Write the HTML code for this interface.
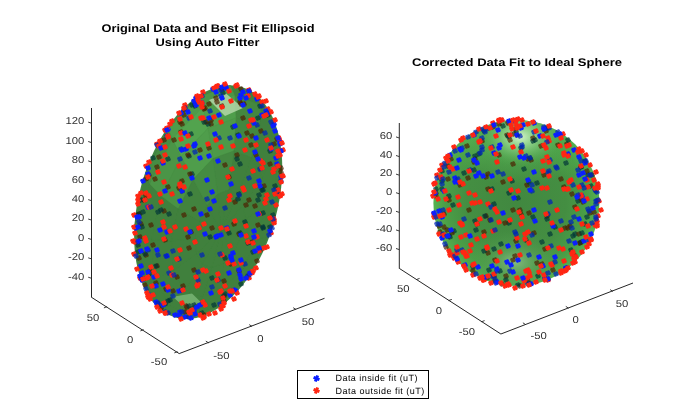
<!DOCTYPE html>
<html><head><meta charset="utf-8"><style>
html,body{margin:0;padding:0;background:#fff;width:700px;height:420px;overflow:hidden}
svg{display:block} text{text-rendering:geometricPrecision} .gs{will-change:transform;opacity:0.999}
</style></head><body>
<svg width="700" height="420" viewBox="0 0 700 420">
<rect width="700" height="420" fill="#fff"/>
<defs><path id="m" transform="scale(0.97)" d="M-0.14,-3.13L2.27,-2.16L1.69,-0.72L3.13,-0.14L2.16,2.27L0.72,1.69L0.14,3.13L-2.27,2.16L-1.69,0.72L-3.13,0.14L-2.16,-2.27L-0.72,-1.69Z"/>
<radialGradient id="rs" cx="0.5" cy="0.5" r="0.5">
<stop offset="0" stop-color="#418840"/><stop offset="0.6" stop-color="#448e42"/><stop offset="0.85" stop-color="#4a9e47"/><stop offset="1" stop-color="#56b250"/></radialGradient>
<radialGradient id="rup" cx="0.5" cy="0.5" r="0.5"><stop offset="0" stop-color="#55b051" stop-opacity="1"/><stop offset="1" stop-color="#4fa84c" stop-opacity="0"/></radialGradient>
<radialGradient id="rh1" cx="0.5" cy="0.5" r="0.5"><stop offset="0" stop-color="#d4f4cc" stop-opacity="1"/><stop offset="0.3" stop-color="#9ad894" stop-opacity="0.85"/><stop offset="1" stop-color="#4aa048" stop-opacity="0"/></radialGradient>
<radialGradient id="rh2" cx="0.5" cy="0.5" r="0.5"><stop offset="0" stop-color="#86bb80" stop-opacity="1"/><stop offset="0.5" stop-color="#5aa056" stop-opacity="0.55"/><stop offset="1" stop-color="#4a9a48" stop-opacity="0"/></radialGradient>

<clipPath id="lc"><ellipse cx="0" cy="0" rx="69.0" ry="120.0" transform="translate(208.2,202.1) rotate(15.91)"/></clipPath>
<clipPath id="rc"><circle cx="516.4" cy="203.0" r="83.0"/></clipPath>
</defs>
<ellipse cx="0" cy="0" rx="69.0" ry="120.0" transform="translate(208.2,202.1) rotate(15.91)" fill="#438642"/>
<g clip-path="url(#lc)">
<polygon points="281.8,180.5 277.3,170.6 274,126.2 278.4,136" fill="#40803d" stroke="#40803d" stroke-width="0.3"/>
<polygon points="145.4,174 148.5,167.6 139.1,211.3 134.6,223.7" fill="#40803d" stroke="#40803d" stroke-width="0.3"/>
<polygon points="230.1,85.5 223.1,89.7 195.1,100.1 198.4,97.3" fill="#41813e" stroke="#41813e" stroke-width="0.3"/>
<polygon points="142.4,278 138,268.2 154.9,298.6 159.3,308.4" fill="#40803d" stroke="#40803d" stroke-width="0.3"/>
<polygon points="168.1,128.9 168.5,127.9 148.5,167.6 145.4,174" fill="#40803d" stroke="#40803d" stroke-width="0.3"/>
<polygon points="198.4,97.3 195.1,100.1 168.5,127.9 168.1,128.9" fill="#438640" stroke="#438640" stroke-width="0.3"/>
<polygon points="221.3,304.1 218,306.9 248.3,275.3 247.9,276.3" fill="#40803d" stroke="#40803d" stroke-width="0.3"/>
<polygon points="247.9,276.3 248.3,275.3 271,230.2 267.9,236.6" fill="#40803d" stroke="#40803d" stroke-width="0.3"/>
<polygon points="278.4,136 274,126.2 257.1,95.8 261.5,105.6" fill="#40803d" stroke="#40803d" stroke-width="0.3"/>
<polygon points="193.3,314.5 186.3,318.7 218,306.9 221.3,304.1" fill="#40803d" stroke="#40803d" stroke-width="0.3"/>
<polygon points="267.9,236.6 271,230.2 281.8,180.5 277.3,192.9" fill="#40803d" stroke="#40803d" stroke-width="0.3"/>
<polygon points="139.1,233.6 134.6,223.7 138,268.2 142.4,278" fill="#40803d" stroke="#40803d" stroke-width="0.3"/>
<polygon points="169.6,305.5 159.3,308.4 186.3,318.7 193.3,314.5" fill="#40803d" stroke="#40803d" stroke-width="0.3"/>
<polygon points="261.5,105.6 257.1,95.8 230.1,85.5 234.5,95.3" fill="#40803d" stroke="#40803d" stroke-width="0.3"/>
<polygon points="277.3,192.9 281.8,180.5 278.4,136 274.3,153.8" fill="#40803d" stroke="#40803d" stroke-width="0.3"/>
<polygon points="149.8,183.9 145.4,174 134.6,223.7 139.1,233.6" fill="#40803d" stroke="#40803d" stroke-width="0.3"/>
<polygon points="234.5,95.3 230.1,85.5 198.4,97.3 202.8,107.1" fill="#4b9647" stroke="#4b9647" stroke-width="0.3"/>
<polygon points="154.8,278.7 142.4,278 159.3,308.4 169.6,305.5" fill="#40803d" stroke="#40803d" stroke-width="0.3"/>
<polygon points="172.5,138.7 168.1,128.9 145.4,174 149.8,183.9" fill="#468c43" stroke="#468c43" stroke-width="0.3"/>
<polygon points="202.8,107.1 198.4,97.3 168.1,128.9 172.5,138.7" fill="#4e9b4a" stroke="#4e9b4a" stroke-width="0.3"/>
<polygon points="222.9,289 221.3,304.1 247.9,276.3 242.7,268.4" fill="#40803d" stroke="#40803d" stroke-width="0.3"/>
<polygon points="274.3,153.8 278.4,136 261.5,105.6 259.5,127.1" fill="#40803d" stroke="#40803d" stroke-width="0.3"/>
<polygon points="242.7,268.4 247.9,276.3 267.9,236.6 257.5,238.9" fill="#40803d" stroke="#40803d" stroke-width="0.3"/>
<polygon points="202.2,296.7 193.3,314.5 221.3,304.1 222.9,289" fill="#40803d" stroke="#40803d" stroke-width="0.3"/>
<polygon points="257.5,238.9 267.9,236.6 277.3,192.9 264.5,206.5" fill="#40803d" stroke="#40803d" stroke-width="0.3"/>
<polygon points="151.8,239.6 139.1,233.6 142.4,278 154.8,278.7" fill="#40803d" stroke="#40803d" stroke-width="0.3"/>
<polygon points="184.6,290 169.6,305.5 193.3,314.5 202.2,296.7" fill="#40803d" stroke="#40803d" stroke-width="0.3"/>
<polygon points="259.5,127.1 261.5,105.6 234.5,95.3 235.8,118" fill="#448740" stroke="#448740" stroke-width="0.3"/>
<polygon points="264.5,206.5 277.3,192.9 274.3,153.8 262.3,177.5" fill="#40803d" stroke="#40803d" stroke-width="0.3"/>
<polygon points="161.3,195.9 149.8,183.9 139.1,233.6 151.8,239.6" fill="#40803d" stroke="#40803d" stroke-width="0.3"/>
<polygon points="173.6,270.2 154.8,278.7 169.6,305.5 184.6,290" fill="#40803d" stroke="#40803d" stroke-width="0.3"/>
<polygon points="235.8,118 234.5,95.3 202.8,107.1 207.9,128.4" fill="#4f9e4b" stroke="#4f9e4b" stroke-width="0.3"/>
<polygon points="262.3,177.5 274.3,153.8 259.5,127.1 251.3,157.6" fill="#40803d" stroke="#40803d" stroke-width="0.3"/>
<polygon points="181.3,156.2 172.5,138.7 149.8,183.9 161.3,195.9" fill="#4b9547" stroke="#4b9547" stroke-width="0.3"/>
<polygon points="222.8,263.4 222.9,289 242.7,268.4 233.3,252.5" fill="#40803d" stroke="#40803d" stroke-width="0.3"/>
<polygon points="233.3,252.5 242.7,268.4 257.5,238.9 241.2,236.8" fill="#40803d" stroke="#40803d" stroke-width="0.3"/>
<polygon points="207.9,128.4 202.8,107.1 172.5,138.7 181.3,156.2" fill="#52a34e" stroke="#52a34e" stroke-width="0.3"/>
<polygon points="211.8,267.6 202.2,296.7 222.9,289 222.8,263.4" fill="#40803d" stroke="#40803d" stroke-width="0.3"/>
<polygon points="241.2,236.8 257.5,238.9 264.5,206.5 244.9,219.5" fill="#40803d" stroke="#40803d" stroke-width="0.3"/>
<polygon points="171.4,241.2 151.8,239.6 154.8,278.7 173.6,270.2" fill="#40803d" stroke="#40803d" stroke-width="0.3"/>
<polygon points="202.4,264 184.6,290 202.2,296.7 211.8,267.6" fill="#40803d" stroke="#40803d" stroke-width="0.3"/>
<polygon points="251.3,157.6 259.5,127.1 235.8,118 233.7,150.9" fill="#438740" stroke="#438740" stroke-width="0.3"/>
<polygon points="244.9,219.5 264.5,206.5 262.3,177.5 243.8,204.1" fill="#40803d" stroke="#40803d" stroke-width="0.3"/>
<polygon points="196.5,253.4 173.6,270.2 184.6,290 202.4,264" fill="#40803d" stroke="#40803d" stroke-width="0.3"/>
<polygon points="178.4,208.7 161.3,195.9 151.8,239.6 171.4,241.2" fill="#40803d" stroke="#40803d" stroke-width="0.3"/>
<polygon points="243.8,204.1 262.3,177.5 251.3,157.6 237.9,193.5" fill="#40803d" stroke="#40803d" stroke-width="0.3"/>
<polygon points="233.7,150.9 235.8,118 207.9,128.4 213,158.6" fill="#4d9949" stroke="#4d9949" stroke-width="0.3"/>
<polygon points="220.9,230.5 222.8,263.4 233.3,252.5 220.9,230.5" fill="#40803d" stroke="#40803d" stroke-width="0.3"/>
<polygon points="193.2,179.3 181.3,156.2 161.3,195.9 178.4,208.7" fill="#499245" stroke="#499245" stroke-width="0.3"/>
<polygon points="220.9,230.5 233.3,252.5 241.2,236.8 220.9,230.5" fill="#40803d" stroke="#40803d" stroke-width="0.3"/>
<polygon points="220.9,230.5 211.8,267.6 222.8,263.4 220.9,230.5" fill="#40803d" stroke="#40803d" stroke-width="0.3"/>
<polygon points="213,158.6 207.9,128.4 181.3,156.2 193.2,179.3" fill="#4f9d4b" stroke="#4f9d4b" stroke-width="0.3"/>
<polygon points="220.9,230.5 241.2,236.8 244.9,219.5 220.9,230.5" fill="#40803d" stroke="#40803d" stroke-width="0.3"/>
<polygon points="195.4,238 171.4,241.2 173.6,270.2 196.5,253.4" fill="#40803d" stroke="#40803d" stroke-width="0.3"/>
<polygon points="220.9,230.5 202.4,264 211.8,267.6 220.9,230.5" fill="#40803d" stroke="#40803d" stroke-width="0.3"/>
<polygon points="220.9,230.5 244.9,219.5 243.8,204.1 220.9,230.5" fill="#40803d" stroke="#40803d" stroke-width="0.3"/>
<polygon points="237.9,193.5 251.3,157.6 233.7,150.9 228.5,190" fill="#40803d" stroke="#40803d" stroke-width="0.3"/>
<polygon points="220.9,230.5 196.5,253.4 202.4,264 220.9,230.5" fill="#40803d" stroke="#40803d" stroke-width="0.3"/>
<polygon points="220.9,230.5 243.8,204.1 237.9,193.5 220.9,230.5" fill="#40803d" stroke="#40803d" stroke-width="0.3"/>
<polygon points="199.1,220.7 178.4,208.7 171.4,241.2 195.4,238" fill="#40803d" stroke="#40803d" stroke-width="0.3"/>
<polygon points="220.9,230.5 195.4,238 196.5,253.4 220.9,230.5" fill="#40803d" stroke="#40803d" stroke-width="0.3"/>
<polygon points="220.9,230.5 237.9,193.5 228.5,190 220.9,230.5" fill="#40803d" stroke="#40803d" stroke-width="0.3"/>
<polygon points="228.5,190 233.7,150.9 213,158.6 217.5,194.1" fill="#448841" stroke="#448841" stroke-width="0.3"/>
<polygon points="220.9,230.5 199.1,220.7 195.4,238 220.9,230.5" fill="#40803d" stroke="#40803d" stroke-width="0.3"/>
<polygon points="220.9,230.5 228.5,190 217.5,194.1 220.9,230.5" fill="#40803d" stroke="#40803d" stroke-width="0.3"/>
<polygon points="220.9,230.5 207,205 199.1,220.7 220.9,230.5" fill="#40803d" stroke="#40803d" stroke-width="0.3"/>
<polygon points="207,205 193.2,179.3 178.4,208.7 199.1,220.7" fill="#42833e" stroke="#42833e" stroke-width="0.3"/>
<polygon points="220.9,230.5 217.5,194.1 207,205 220.9,230.5" fill="#40803d" stroke="#40803d" stroke-width="0.3"/>
<polygon points="217.5,194.1 213,158.6 193.2,179.3 207,205" fill="#458b42" stroke="#458b42" stroke-width="0.3"/>
</g>
<polygon points="209,100 226,93.5 243,108 225,116" fill="#b3d6a8" opacity="0.85"/>
<polygon points="172.9,296.8 192,293.6 200.7,302 185.7,308.6" fill="#7cb878" opacity="0.8"/>
<use href="#m" x="207" y="215" fill="#4d1f00" fill-opacity="0.7"/>
<use href="#m" x="194" y="209" fill="#4d1f00" fill-opacity="0.7"/>
<use href="#m" x="212" y="228" fill="#4d1f00" fill-opacity="0.7"/>
<use href="#m" x="190" y="194" fill="#003538" fill-opacity="0.7"/>
<use href="#m" x="191" y="232" fill="#4d1f00" fill-opacity="0.7"/>
<use href="#m" x="229" y="177" fill="#4d1f00" fill-opacity="0.7"/>
<use href="#m" x="210" y="237" fill="#003538" fill-opacity="0.7"/>
<use href="#m" x="184" y="215" fill="#4d1f00" fill-opacity="0.7"/>
<use href="#m" x="225" y="165" fill="#4d1f00" fill-opacity="0.7"/>
<use href="#m" x="188" y="237" fill="#4d1f00" fill-opacity="0.7"/>
<use href="#m" x="235" y="202" fill="#4d1f00" fill-opacity="0.7"/>
<use href="#m" x="192" y="174" fill="#003538" fill-opacity="0.7"/>
<use href="#m" x="190" y="174" fill="#4d1f00" fill-opacity="0.7"/>
<use href="#m" x="189" y="248" fill="#4d1f00" fill-opacity="0.7"/>
<use href="#m" x="182" y="191" fill="#4d1f00" fill-opacity="0.7"/>
<use href="#m" x="238" y="199" fill="#003538" fill-opacity="0.7"/>
<use href="#m" x="239" y="194" fill="#003538" fill-opacity="0.7"/>
<use href="#m" x="179" y="188" fill="#4d1f00" fill-opacity="0.7"/>
<use href="#m" x="182" y="181" fill="#4d1f00" fill-opacity="0.7"/>
<use href="#m" x="234" y="224" fill="#4d1f00" fill-opacity="0.7"/>
<use href="#m" x="209" y="148" fill="#4d1f00" fill-opacity="0.7"/>
<use href="#m" x="229" y="233" fill="#003538" fill-opacity="0.7"/>
<use href="#m" x="237" y="155" fill="#4d1f00" fill-opacity="0.7"/>
<use href="#m" x="237" y="159" fill="#003538" fill-opacity="0.7"/>
<use href="#m" x="240" y="164" fill="#003538" fill-opacity="0.7"/>
<use href="#m" x="200" y="150" fill="#4d1f00" fill-opacity="0.7"/>
<use href="#m" x="169" y="214" fill="#003538" fill-opacity="0.7"/>
<use href="#m" x="246" y="205" fill="#4d1f00" fill-opacity="0.7"/>
<use href="#m" x="189" y="156" fill="#003538" fill-opacity="0.7"/>
<use href="#m" x="249" y="200" fill="#4d1f00" fill-opacity="0.7"/>
<use href="#m" x="188" y="155" fill="#4d1f00" fill-opacity="0.7"/>
<use href="#m" x="194" y="270" fill="#4d1f00" fill-opacity="0.7"/>
<use href="#m" x="239" y="234" fill="#4d1f00" fill-opacity="0.7"/>
<use href="#m" x="240" y="233" fill="#003538" fill-opacity="0.7"/>
<use href="#m" x="165" y="240" fill="#4d1f00" fill-opacity="0.7"/>
<use href="#m" x="164" y="211" fill="#4d1f00" fill-opacity="0.7"/>
<use href="#m" x="245" y="222" fill="#003538" fill-opacity="0.7"/>
<use href="#m" x="168" y="187" fill="#4d1f00" fill-opacity="0.7"/>
<use href="#m" x="225" y="258" fill="#003538" fill-opacity="0.7"/>
<use href="#m" x="238" y="135" fill="#003538" fill-opacity="0.7"/>
<use href="#m" x="251" y="145" fill="#4d1f00" fill-opacity="0.7"/>
<use href="#m" x="211" y="124" fill="#4d1f00" fill-opacity="0.7"/>
<use href="#m" x="255" y="206" fill="#4d1f00" fill-opacity="0.7"/>
<use href="#m" x="161" y="210" fill="#003538" fill-opacity="0.7"/>
<use href="#m" x="233" y="127" fill="#003538" fill-opacity="0.7"/>
<use href="#m" x="177" y="277" fill="#4d1f00" fill-opacity="0.7"/>
<use href="#m" x="256" y="155" fill="#4d1f00" fill-opacity="0.7"/>
<use href="#m" x="158" y="212" fill="#003538" fill-opacity="0.7"/>
<use href="#m" x="247" y="133" fill="#4d1f00" fill-opacity="0.7"/>
<use href="#m" x="252" y="136" fill="#4d1f00" fill-opacity="0.7"/>
<use href="#m" x="208" y="124" fill="#003538" fill-opacity="0.7"/>
<use href="#m" x="258" y="200" fill="#003538" fill-opacity="0.7"/>
<use href="#m" x="259" y="195" fill="#003538" fill-opacity="0.7"/>
<use href="#m" x="231" y="264" fill="#4d1f00" fill-opacity="0.7"/>
<use href="#m" x="206" y="122" fill="#4d1f00" fill-opacity="0.7"/>
<use href="#m" x="211" y="120" fill="#4d1f00" fill-opacity="0.7"/>
<use href="#m" x="191" y="134" fill="#003538" fill-opacity="0.7"/>
<use href="#m" x="183" y="286" fill="#4d1f00" fill-opacity="0.7"/>
<use href="#m" x="212" y="278" fill="#003538" fill-opacity="0.7"/>
<use href="#m" x="204" y="122" fill="#003538" fill-opacity="0.7"/>
<use href="#m" x="264" y="186" fill="#4d1f00" fill-opacity="0.7"/>
<use href="#m" x="262" y="190" fill="#003538" fill-opacity="0.7"/>
<use href="#m" x="153" y="245" fill="#4d1f00" fill-opacity="0.7"/>
<use href="#m" x="263" y="190" fill="#003538" fill-opacity="0.7"/>
<use href="#m" x="243" y="118" fill="#4d1f00" fill-opacity="0.7"/>
<use href="#m" x="248" y="243" fill="#003538" fill-opacity="0.7"/>
<use href="#m" x="151" y="225" fill="#4d1f00" fill-opacity="0.7"/>
<use href="#m" x="157" y="266" fill="#4d1f00" fill-opacity="0.7"/>
<use href="#m" x="258" y="225" fill="#4d1f00" fill-opacity="0.7"/>
<use href="#m" x="224" y="281" fill="#4d1f00" fill-opacity="0.7"/>
<use href="#m" x="173" y="291" fill="#4d1f00" fill-opacity="0.7"/>
<use href="#m" x="156" y="266" fill="#003538" fill-opacity="0.7"/>
<use href="#m" x="252" y="242" fill="#4d1f00" fill-opacity="0.7"/>
<use href="#m" x="168" y="159" fill="#003538" fill-opacity="0.7"/>
<use href="#m" x="222" y="106" fill="#4d1f00" fill-opacity="0.7"/>
<use href="#m" x="263" y="213" fill="#003538" fill-opacity="0.7"/>
<use href="#m" x="261" y="131" fill="#4d1f00" fill-opacity="0.7"/>
<use href="#m" x="181" y="132" fill="#4d1f00" fill-opacity="0.7"/>
<use href="#m" x="174" y="140" fill="#4d1f00" fill-opacity="0.7"/>
<use href="#m" x="166" y="289" fill="#4d1f00" fill-opacity="0.7"/>
<use href="#m" x="155" y="179" fill="#4d1f00" fill-opacity="0.7"/>
<use href="#m" x="205" y="108" fill="#4d1f00" fill-opacity="0.7"/>
<use href="#m" x="239" y="271" fill="#4d1f00" fill-opacity="0.7"/>
<use href="#m" x="270" y="164" fill="#4d1f00" fill-opacity="0.7"/>
<use href="#m" x="217" y="102" fill="#4d1f00" fill-opacity="0.7"/>
<use href="#m" x="209" y="104" fill="#4d1f00" fill-opacity="0.7"/>
<use href="#m" x="204" y="109" fill="#4d1f00" fill-opacity="0.7"/>
<use href="#m" x="156" y="283" fill="#4d1f00" fill-opacity="0.7"/>
<use href="#m" x="157" y="167" fill="#4d1f00" fill-opacity="0.7"/>
<use href="#m" x="240" y="102" fill="#4d1f00" fill-opacity="0.7"/>
<use href="#m" x="241" y="104" fill="#4d1f00" fill-opacity="0.7"/>
<use href="#m" x="146" y="255" fill="#4d1f00" fill-opacity="0.7"/>
<use href="#m" x="150" y="271" fill="#4d1f00" fill-opacity="0.7"/>
<use href="#m" x="244" y="104" fill="#4d1f00" fill-opacity="0.7"/>
<use href="#m" x="258" y="118" fill="#003538" fill-opacity="0.7"/>
<use href="#m" x="270" y="151" fill="#003538" fill-opacity="0.7"/>
<use href="#m" x="203" y="303" fill="#4d1f00" fill-opacity="0.7"/>
<use href="#m" x="263" y="228" fill="#003538" fill-opacity="0.7"/>
<use href="#m" x="263" y="227" fill="#003538" fill-opacity="0.7"/>
<use href="#m" x="182" y="124" fill="#4d1f00" fill-opacity="0.7"/>
<use href="#m" x="253" y="252" fill="#003538" fill-opacity="0.7"/>
<use href="#m" x="170" y="300" fill="#003538" fill-opacity="0.7"/>
<use href="#m" x="146" y="196" fill="#4d1f00" fill-opacity="0.7"/>
<use href="#m" x="145" y="254" fill="#003538" fill-opacity="0.7"/>
<use href="#m" x="186" y="306" fill="#4d1f00" fill-opacity="0.7"/>
<use href="#m" x="187" y="307" fill="#4d1f00" fill-opacity="0.7"/>
<use href="#m" x="189" y="306" fill="#003538" fill-opacity="0.7"/>
<use href="#m" x="141" y="224" fill="#4d1f00" fill-opacity="0.7"/>
<use href="#m" x="159" y="157" fill="#4d1f00" fill-opacity="0.7"/>
<use href="#m" x="180" y="122" fill="#4d1f00" fill-opacity="0.7"/>
<use href="#m" x="142" y="227" fill="#003538" fill-opacity="0.7"/>
<use href="#m" x="216" y="98" fill="#4d1f00" fill-opacity="0.7"/>
<use href="#m" x="194" y="305" fill="#003538" fill-opacity="0.7"/>
<use href="#m" x="274" y="144" fill="#4d1f00" fill-opacity="0.7"/>
<use href="#m" x="144" y="200" fill="#4d1f00" fill-opacity="0.7"/>
<use href="#m" x="224" y="296" fill="#4d1f00" fill-opacity="0.7"/>
<use href="#m" x="140" y="237" fill="#4d1f00" fill-opacity="0.7"/>
<use href="#m" x="168" y="301" fill="#003538" fill-opacity="0.7"/>
<use href="#m" x="143" y="212" fill="#003538" fill-opacity="0.7"/>
<use href="#m" x="149" y="274" fill="#003538" fill-opacity="0.7"/>
<use href="#m" x="225" y="294" fill="#003538" fill-opacity="0.7"/>
<use href="#m" x="184" y="115" fill="#4d1f00" fill-opacity="0.7"/>
<use href="#m" x="275" y="186" fill="#003538" fill-opacity="0.7"/>
<use href="#m" x="139" y="214" fill="#4d1f00" fill-opacity="0.7"/>
<use href="#m" x="195" y="106" fill="#003538" fill-opacity="0.7"/>
<use href="#m" x="185" y="312" fill="#4d1f00" fill-opacity="0.7"/>
<use href="#m" x="164" y="140" fill="#4d1f00" fill-opacity="0.7"/>
<use href="#m" x="149" y="175" fill="#4d1f00" fill-opacity="0.7"/>
<use href="#m" x="195" y="104" fill="#003538" fill-opacity="0.7"/>
<use href="#m" x="214" y="305" fill="#003538" fill-opacity="0.7"/>
<use href="#m" x="138" y="215" fill="#4d1f00" fill-opacity="0.7"/>
<use href="#m" x="146" y="179" fill="#4d1f00" fill-opacity="0.7"/>
<use href="#m" x="139" y="258" fill="#4d1f00" fill-opacity="0.7"/>
<use href="#m" x="165" y="304" fill="#003538" fill-opacity="0.7"/>
<use href="#m" x="224" y="301" fill="#4d1f00" fill-opacity="0.7"/>
<use href="#m" x="141" y="200" fill="#003538" fill-opacity="0.7"/>
<use href="#m" x="249" y="91" fill="#4d1f00" fill-opacity="0.7"/>
<use href="#m" x="223" y="93" fill="#003538" fill-opacity="0.7"/>
<use href="#m" x="260" y="250" fill="#003538" fill-opacity="0.7"/>
<use href="#m" x="143" y="279" fill="#4d1f00" fill-opacity="0.7"/>
<use href="#m" x="222" y="89" fill="#4d1f00" fill-opacity="0.7"/>
<use href="#m" x="279" y="194" fill="#4d1f00" fill-opacity="0.7"/>
<use href="#m" x="260" y="106" fill="#003538" fill-opacity="0.7"/>
<use href="#m" x="161" y="308" fill="#4d1f00" fill-opacity="0.7"/>
<use href="#m" x="184" y="110" fill="#4d1f00" fill-opacity="0.7"/>
<use href="#m" x="270" y="227" fill="#003538" fill-opacity="0.7"/>
<use href="#m" x="158" y="304" fill="#4d1f00" fill-opacity="0.7"/>
<use href="#m" x="223" y="298" fill="#003538" fill-opacity="0.7"/>
<use href="#m" x="192" y="105" fill="#003538" fill-opacity="0.7"/>
<use href="#m" x="273" y="215" fill="#003538" fill-opacity="0.7"/>
<use href="#m" x="268" y="115" fill="#003538" fill-opacity="0.7"/>
<use href="#m" x="138" y="245" fill="#003538" fill-opacity="0.7"/>
<use href="#m" x="139" y="214" fill="#003538" fill-opacity="0.7"/>
<use href="#m" x="277" y="139" fill="#4d1f00" fill-opacity="0.7"/>
<use href="#m" x="241" y="89" fill="#4d1f00" fill-opacity="0.7"/>
<use href="#m" x="241" y="284" fill="#003538" fill-opacity="0.7"/>
<use href="#m" x="257" y="261" fill="#4d1f00" fill-opacity="0.7"/>
<use href="#m" x="145" y="285" fill="#4d1f00" fill-opacity="0.7"/>
<use href="#m" x="138" y="252" fill="#003538" fill-opacity="0.7"/>
<use href="#m" x="281" y="168" fill="#4d1f00" fill-opacity="0.7"/>
<use href="#m" x="202" y="313" fill="#003538" fill-opacity="0.7"/>
<use href="#m" x="204" y="315" fill="#4d1f00" fill-opacity="0.7"/>
<use href="#m" x="248" y="276" fill="#003538" fill-opacity="0.7"/>
<use href="#m" x="153" y="158" fill="#003538" fill-opacity="0.7"/>
<use href="#m" x="281" y="172" fill="#4d1f00" fill-opacity="0.7"/>
<use href="#m" x="134" y="254" fill="#ff2612"/>
<use href="#m" x="134" y="215" fill="#ff2612"/>
<use href="#m" x="135" y="233" fill="#ff2612"/>
<use href="#m" x="137" y="217" fill="#0a1eff"/>
<use href="#m" x="140" y="278" fill="#ff2612"/>
<use href="#m" x="140" y="276" fill="#0a1eff"/>
<use href="#m" x="142" y="279" fill="#0025b6" fill-opacity="0.75"/>
<use href="#m" x="142" y="273" fill="#0a1eff"/>
<use href="#m" x="149" y="295" fill="#0a1eff"/>
<use href="#m" x="150" y="299" fill="#ff2612"/>
<use href="#m" x="156" y="302" fill="#0a1eff"/>
<use href="#m" x="157" y="144" fill="#ff2612"/>
<use href="#m" x="157" y="145" fill="#0025b6" fill-opacity="0.75"/>
<use href="#m" x="165" y="312" fill="#0025b6" fill-opacity="0.75"/>
<use href="#m" x="166" y="313" fill="#ff2612"/>
<use href="#m" x="168" y="313" fill="#0025b6" fill-opacity="0.75"/>
<use href="#m" x="172" y="121" fill="#ff2612"/>
<use href="#m" x="175" y="315" fill="#0a1eff"/>
<use href="#m" x="181" y="113" fill="#0a1eff"/>
<use href="#m" x="185" y="105" fill="#ff2612"/>
<use href="#m" x="185" y="108" fill="#0025b6" fill-opacity="0.75"/>
<use href="#m" x="185" y="317" fill="#0a1eff"/>
<use href="#m" x="189" y="317" fill="#0025b6" fill-opacity="0.75"/>
<use href="#m" x="196" y="98" fill="#0a1eff"/>
<use href="#m" x="197" y="96" fill="#ff2612"/>
<use href="#m" x="203" y="92" fill="#ff2612"/>
<use href="#m" x="204" y="317" fill="#ff2612"/>
<use href="#m" x="215" y="313" fill="#ff2612"/>
<use href="#m" x="217" y="86" fill="#ff2612"/>
<use href="#m" x="218" y="86" fill="#ff2612"/>
<use href="#m" x="220" y="304" fill="#0025b6" fill-opacity="0.75"/>
<use href="#m" x="221" y="90" fill="#0025b6" fill-opacity="0.75"/>
<use href="#m" x="222" y="87" fill="#0a1eff"/>
<use href="#m" x="222" y="306" fill="#ff2612"/>
<use href="#m" x="224" y="303" fill="#ff2612"/>
<use href="#m" x="226" y="87" fill="#0a1eff"/>
<use href="#m" x="226" y="88" fill="#0a1eff"/>
<use href="#m" x="234" y="299" fill="#ff2612"/>
<use href="#m" x="236" y="291" fill="#0a1eff"/>
<use href="#m" x="236" y="86" fill="#ff2612"/>
<use href="#m" x="243" y="92" fill="#0a1eff"/>
<use href="#m" x="249" y="278" fill="#ff2612"/>
<use href="#m" x="249" y="275" fill="#0025b6" fill-opacity="0.75"/>
<use href="#m" x="252" y="273" fill="#ff2612"/>
<use href="#m" x="255" y="94" fill="#ff2612"/>
<use href="#m" x="257" y="99" fill="#0a1eff"/>
<use href="#m" x="258" y="97" fill="#ff2612"/>
<use href="#m" x="259" y="96" fill="#ff2612"/>
<use href="#m" x="266" y="101" fill="#ff2612"/>
<use href="#m" x="267" y="247" fill="#ff2612"/>
<use href="#m" x="268" y="109" fill="#ff2612"/>
<use href="#m" x="271" y="112" fill="#ff2612"/>
<use href="#m" x="271" y="233" fill="#ff2612"/>
<use href="#m" x="273" y="126" fill="#0a1eff"/>
<use href="#m" x="274" y="223" fill="#ff2612"/>
<use href="#m" x="275" y="131" fill="#0a1eff"/>
<use href="#m" x="277" y="193" fill="#0025b6" fill-opacity="0.75"/>
<use href="#m" x="280" y="141" fill="#ff2612"/>
<use href="#m" x="281" y="177" fill="#0a1eff"/>
<use href="#m" x="282" y="176" fill="#ff2612"/>
<use href="#m" x="283" y="176" fill="#ff2612"/>
<use href="#m" x="133" y="241" fill="#ff2612"/>
<use href="#m" x="157" y="304" fill="#0a1eff"/>
<use href="#m" x="280" y="142" fill="#0a1eff"/>
<use href="#m" x="138" y="196" fill="#ff2612"/>
<use href="#m" x="136" y="256" fill="#0025b6" fill-opacity="0.75"/>
<use href="#m" x="179" y="315" fill="#0a1eff"/>
<use href="#m" x="203" y="318" fill="#ff2612"/>
<use href="#m" x="281" y="181" fill="#0025b6" fill-opacity="0.75"/>
<use href="#m" x="280" y="144" fill="#0a1eff"/>
<use href="#m" x="283" y="150" fill="#ff2612"/>
<use href="#m" x="146" y="289" fill="#0025b6" fill-opacity="0.75"/>
<use href="#m" x="270" y="231" fill="#0a1eff"/>
<use href="#m" x="168" y="129" fill="#0a1eff"/>
<use href="#m" x="256" y="268" fill="#ff2612"/>
<use href="#m" x="148" y="297" fill="#ff2612"/>
<use href="#m" x="225" y="86" fill="#0a1eff"/>
<use href="#m" x="221" y="309" fill="#ff2612"/>
<use href="#m" x="269" y="235" fill="#0025b6" fill-opacity="0.75"/>
<use href="#m" x="166" y="130" fill="#ff2612"/>
<use href="#m" x="160" y="311" fill="#ff2612"/>
<use href="#m" x="249" y="90" fill="#ff2612"/>
<use href="#m" x="165" y="130" fill="#ff2612"/>
<use href="#m" x="143" y="181" fill="#0a1eff"/>
<use href="#m" x="249" y="91" fill="#0a1eff"/>
<use href="#m" x="250" y="273" fill="#0a1eff"/>
<use href="#m" x="167" y="128" fill="#ff2612"/>
<use href="#m" x="274" y="124" fill="#0a1eff"/>
<use href="#m" x="281" y="151" fill="#0a1eff"/>
<use href="#m" x="213" y="89" fill="#0a1eff"/>
<use href="#m" x="137" y="269" fill="#ff2612"/>
<use href="#m" x="223" y="306" fill="#ff2612"/>
<use href="#m" x="237" y="85" fill="#ff2612"/>
<use href="#m" x="141" y="266" fill="#0a1eff"/>
<use href="#m" x="279" y="138" fill="#ff2612"/>
<use href="#m" x="278" y="138" fill="#0a1eff"/>
<use href="#m" x="282" y="143" fill="#ff2612"/>
<use href="#m" x="194" y="101" fill="#0a1eff"/>
<use href="#m" x="167" y="130" fill="#0a1eff"/>
<use href="#m" x="209" y="314" fill="#ff2612"/>
<use href="#m" x="142" y="280" fill="#0a1eff"/>
<use href="#m" x="280" y="196" fill="#ff2612"/>
<use href="#m" x="275" y="120" fill="#ff2612"/>
<use href="#m" x="225" y="84" fill="#ff2612"/>
<use href="#m" x="272" y="228" fill="#0025b6" fill-opacity="0.75"/>
<use href="#m" x="146" y="166" fill="#ff2612"/>
<use href="#m" x="191" y="318" fill="#0a1eff"/>
<use href="#m" x="165" y="313" fill="#ff2612"/>
<use href="#m" x="149" y="162" fill="#ff2612"/>
<use href="#m" x="214" y="88" fill="#ff2612"/>
<use href="#m" x="282" y="194" fill="#ff2612"/>
<use href="#m" x="280" y="196" fill="#ff2612"/>
<use href="#m" x="281" y="182" fill="#ff2612"/>
<use href="#m" x="237" y="293" fill="#ff2612"/>
<use href="#m" x="147" y="293" fill="#ff2612"/>
<use href="#m" x="246" y="278" fill="#0a1eff"/>
<use href="#m" x="148" y="168" fill="#0a1eff"/>
<use href="#m" x="136" y="228" fill="#0a1eff"/>
<use href="#m" x="170" y="124" fill="#ff2612"/>
<use href="#m" x="181" y="319" fill="#ff2612"/>
<use href="#m" x="138" y="204" fill="#ff2612"/>
<use href="#m" x="202" y="96" fill="#0025b6" fill-opacity="0.75"/>
<use href="#m" x="158" y="303" fill="#0025b6" fill-opacity="0.75"/>
<use href="#m" x="264" y="248" fill="#ff2612"/>
<use href="#m" x="179" y="113" fill="#ff2612"/>
<use href="#m" x="274" y="219" fill="#ff2612"/>
<use href="#m" x="274" y="221" fill="#ff2612"/>
<use href="#m" x="157" y="307" fill="#ff2612"/>
<use href="#m" x="148" y="174" fill="#0a1eff"/>
<use href="#m" x="138" y="200" fill="#ff2612"/>
<use href="#m" x="160" y="141" fill="#ff2612"/>
<use href="#m" x="266" y="111" fill="#0a1eff"/>
<use href="#m" x="201" y="96" fill="#ff2612"/>
<use href="#m" x="200" y="315" fill="#ff2612"/>
<use href="#m" x="195" y="314" fill="#0a1eff"/>
<use href="#m" x="149" y="296" fill="#ff2612"/>
<use href="#m" x="253" y="271" fill="#ff2612"/>
<use href="#m" x="134" y="227" fill="#ff2612"/>
<use href="#m" x="184" y="108" fill="#ff2612"/>
<use href="#m" x="141" y="193" fill="#ff2612"/>
<use href="#m" x="262" y="102" fill="#ff2612"/>
<use href="#m" x="267" y="113" fill="#0025b6" fill-opacity="0.75"/>
<use href="#m" x="273" y="219" fill="#0025b6" fill-opacity="0.75"/>
<use href="#m" x="138" y="227" fill="#0a1eff"/>
<use href="#m" x="262" y="106" fill="#0025b6" fill-opacity="0.75"/>
<use href="#m" x="135" y="242" fill="#ff2612"/>
<use href="#m" x="267" y="114" fill="#0a1eff"/>
<use href="#m" x="230" y="295" fill="#0a1eff"/>
<use href="#m" x="138" y="242" fill="#0025b6" fill-opacity="0.75"/>
<use href="#m" x="216" y="92" fill="#0a1eff"/>
<use href="#m" x="241" y="95" fill="#0a1eff"/>
<use href="#m" x="280" y="155" fill="#ff2612"/>
<use href="#m" x="234" y="290" fill="#0a1eff"/>
<use href="#m" x="276" y="205" fill="#ff2612"/>
<use href="#m" x="271" y="122" fill="#0025b6" fill-opacity="0.75"/>
<use href="#m" x="278" y="190" fill="#ff2612"/>
<use href="#m" x="159" y="146" fill="#ff2612"/>
<use href="#m" x="153" y="295" fill="#ff2612"/>
<use href="#m" x="276" y="158" fill="#0a1eff"/>
<use href="#m" x="163" y="305" fill="#0a1eff"/>
<use href="#m" x="143" y="279" fill="#ff2612"/>
<use href="#m" x="180" y="312" fill="#0a1eff"/>
<use href="#m" x="194" y="310" fill="#0a1eff"/>
<use href="#m" x="167" y="136" fill="#0025b6" fill-opacity="0.75"/>
<use href="#m" x="248" y="96" fill="#ff2612"/>
<use href="#m" x="277" y="164" fill="#0a1eff"/>
<use href="#m" x="198" y="100" fill="#ff2612"/>
<use href="#m" x="278" y="151" fill="#ff2612"/>
<use href="#m" x="139" y="217" fill="#0a1eff"/>
<use href="#m" x="278" y="156" fill="#ff2612"/>
<use href="#m" x="139" y="222" fill="#0025b6" fill-opacity="0.75"/>
<use href="#m" x="139" y="241" fill="#0a1eff"/>
<use href="#m" x="190" y="313" fill="#ff2612"/>
<use href="#m" x="161" y="148" fill="#0a1eff"/>
<use href="#m" x="182" y="312" fill="#0025b6" fill-opacity="0.75"/>
<use href="#m" x="196" y="105" fill="#0a1eff"/>
<use href="#m" x="202" y="103" fill="#0a1eff"/>
<use href="#m" x="246" y="98" fill="#0a1eff"/>
<use href="#m" x="241" y="279" fill="#0a1eff"/>
<use href="#m" x="188" y="112" fill="#0a1eff"/>
<use href="#m" x="232" y="291" fill="#ff2612"/>
<use href="#m" x="266" y="115" fill="#ff2612"/>
<use href="#m" x="221" y="96" fill="#0025b6" fill-opacity="0.75"/>
<use href="#m" x="164" y="303" fill="#ff2612"/>
<use href="#m" x="168" y="136" fill="#ff2612"/>
<use href="#m" x="278" y="166" fill="#ff2612"/>
<use href="#m" x="148" y="177" fill="#ff2612"/>
<use href="#m" x="259" y="251" fill="#ff2612"/>
<use href="#m" x="259" y="248" fill="#0a1eff"/>
<use href="#m" x="147" y="278" fill="#ff2612"/>
<use href="#m" x="199" y="102" fill="#ff2612"/>
<use href="#m" x="262" y="115" fill="#0a1eff"/>
<use href="#m" x="223" y="298" fill="#ff2612"/>
<use href="#m" x="230" y="291" fill="#ff2612"/>
<use href="#m" x="229" y="91" fill="#ff2612"/>
<use href="#m" x="189" y="312" fill="#ff2612"/>
<use href="#m" x="197" y="307" fill="#0a1eff"/>
<use href="#m" x="168" y="137" fill="#ff2612"/>
<use href="#m" x="264" y="116" fill="#ff2612"/>
<use href="#m" x="141" y="251" fill="#0a1eff"/>
<use href="#m" x="240" y="275" fill="#0a1eff"/>
<use href="#m" x="180" y="119" fill="#ff2612"/>
<use href="#m" x="192" y="310" fill="#ff2612"/>
<use href="#m" x="255" y="251" fill="#0a1eff"/>
<use href="#m" x="271" y="149" fill="#0a1eff"/>
<use href="#m" x="222" y="98" fill="#0a1eff"/>
<use href="#m" x="272" y="202" fill="#0025b6" fill-opacity="0.75"/>
<use href="#m" x="205" y="305" fill="#ff2612"/>
<use href="#m" x="274" y="190" fill="#0025b6" fill-opacity="0.75"/>
<use href="#m" x="270" y="218" fill="#ff2612"/>
<use href="#m" x="148" y="272" fill="#0a1eff"/>
<use href="#m" x="148" y="277" fill="#ff2612"/>
<use href="#m" x="240" y="98" fill="#0a1eff"/>
<use href="#m" x="200" y="305" fill="#0a1eff"/>
<use href="#m" x="275" y="194" fill="#ff2612"/>
<use href="#m" x="156" y="286" fill="#0a1eff"/>
<use href="#m" x="271" y="145" fill="#0025b6" fill-opacity="0.75"/>
<use href="#m" x="152" y="286" fill="#ff2612"/>
<use href="#m" x="165" y="147" fill="#ff2612"/>
<use href="#m" x="146" y="193" fill="#ff2612"/>
<use href="#m" x="202" y="107" fill="#ff2612"/>
<use href="#m" x="145" y="200" fill="#ff2612"/>
<use href="#m" x="202" y="103" fill="#ff2612"/>
<use href="#m" x="273" y="172" fill="#ff2612"/>
<use href="#m" x="189" y="118" fill="#0025b6" fill-opacity="0.75"/>
<use href="#m" x="274" y="169" fill="#ff2612"/>
<use href="#m" x="271" y="148" fill="#ff2612"/>
<use href="#m" x="154" y="277" fill="#0a1eff"/>
<use href="#m" x="250" y="111" fill="#0a1eff"/>
<use href="#m" x="245" y="264" fill="#0025b6" fill-opacity="0.75"/>
<use href="#m" x="203" y="302" fill="#ff2612"/>
<use href="#m" x="243" y="105" fill="#0a1eff"/>
<use href="#m" x="265" y="133" fill="#0025b6" fill-opacity="0.75"/>
<use href="#m" x="231" y="101" fill="#ff2612"/>
<use href="#m" x="220" y="292" fill="#ff2612"/>
<use href="#m" x="221" y="291" fill="#ff2612"/>
<use href="#m" x="148" y="250" fill="#0025b6" fill-opacity="0.75"/>
<use href="#m" x="267" y="140" fill="#ff2612"/>
<use href="#m" x="173" y="296" fill="#0025b6" fill-opacity="0.75"/>
<use href="#m" x="182" y="303" fill="#ff2612"/>
<use href="#m" x="145" y="238" fill="#ff2612"/>
<use href="#m" x="149" y="196" fill="#ff2612"/>
<use href="#m" x="239" y="270" fill="#0a1eff"/>
<use href="#m" x="191" y="117" fill="#ff2612"/>
<use href="#m" x="225" y="286" fill="#ff2612"/>
<use href="#m" x="148" y="207" fill="#0a1eff"/>
<use href="#m" x="147" y="249" fill="#0a1eff"/>
<use href="#m" x="146" y="241" fill="#ff2612"/>
<use href="#m" x="168" y="290" fill="#0a1eff"/>
<use href="#m" x="151" y="267" fill="#ff2612"/>
<use href="#m" x="211" y="293" fill="#0a1eff"/>
<use href="#m" x="165" y="155" fill="#ff2612"/>
<use href="#m" x="163" y="163" fill="#0a1eff"/>
<use href="#m" x="163" y="284" fill="#0a1eff"/>
<use href="#m" x="154" y="272" fill="#ff2612"/>
<use href="#m" x="257" y="125" fill="#0025b6" fill-opacity="0.75"/>
<use href="#m" x="257" y="237" fill="#ff2612"/>
<use href="#m" x="157" y="276" fill="#ff2612"/>
<use href="#m" x="254" y="123" fill="#0a1eff"/>
<use href="#m" x="253" y="120" fill="#ff2612"/>
<use href="#m" x="241" y="263" fill="#ff2612"/>
<use href="#m" x="210" y="111" fill="#0025b6" fill-opacity="0.75"/>
<use href="#m" x="253" y="243" fill="#ff2612"/>
<use href="#m" x="158" y="172" fill="#ff2612"/>
<use href="#m" x="222" y="107" fill="#ff2612"/>
<use href="#m" x="163" y="161" fill="#ff2612"/>
<use href="#m" x="254" y="237" fill="#0a1eff"/>
<use href="#m" x="266" y="199" fill="#ff2612"/>
<use href="#m" x="265" y="203" fill="#ff2612"/>
<use href="#m" x="168" y="287" fill="#ff2612"/>
<use href="#m" x="149" y="207" fill="#ff2612"/>
<use href="#m" x="267" y="195" fill="#ff2612"/>
<use href="#m" x="151" y="207" fill="#0025b6" fill-opacity="0.75"/>
<use href="#m" x="179" y="291" fill="#0a1eff"/>
<use href="#m" x="181" y="133" fill="#ff2612"/>
<use href="#m" x="185" y="133" fill="#0a1eff"/>
<use href="#m" x="212" y="287" fill="#0025b6" fill-opacity="0.75"/>
<use href="#m" x="201" y="118" fill="#ff2612"/>
<use href="#m" x="229" y="273" fill="#0a1eff"/>
<use href="#m" x="241" y="260" fill="#0a1eff"/>
<use href="#m" x="182" y="290" fill="#0025b6" fill-opacity="0.75"/>
<use href="#m" x="209" y="118" fill="#0a1eff"/>
<use href="#m" x="254" y="231" fill="#0a1eff"/>
<use href="#m" x="251" y="120" fill="#ff2612"/>
<use href="#m" x="203" y="118" fill="#ff2612"/>
<use href="#m" x="181" y="139" fill="#ff2612"/>
<use href="#m" x="219" y="115" fill="#0a1eff"/>
<use href="#m" x="263" y="163" fill="#ff2612"/>
<use href="#m" x="256" y="138" fill="#0a1eff"/>
<use href="#m" x="183" y="290" fill="#ff2612"/>
<use href="#m" x="259" y="214" fill="#ff2612"/>
<use href="#m" x="234" y="264" fill="#ff2612"/>
<use href="#m" x="218" y="280" fill="#0025b6" fill-opacity="0.75"/>
<use href="#m" x="258" y="214" fill="#0a1eff"/>
<use href="#m" x="249" y="126" fill="#ff2612"/>
<use href="#m" x="217" y="280" fill="#ff2612"/>
<use href="#m" x="214" y="117" fill="#ff2612"/>
<use href="#m" x="158" y="255" fill="#0025b6" fill-opacity="0.75"/>
<use href="#m" x="157" y="250" fill="#0a1eff"/>
<use href="#m" x="261" y="161" fill="#ff2612"/>
<use href="#m" x="260" y="169" fill="#0025b6" fill-opacity="0.75"/>
<use href="#m" x="188" y="136" fill="#ff2612"/>
<use href="#m" x="248" y="242" fill="#ff2612"/>
<use href="#m" x="262" y="168" fill="#ff2612"/>
<use href="#m" x="197" y="286" fill="#ff2612"/>
<use href="#m" x="169" y="273" fill="#0025b6" fill-opacity="0.75"/>
<use href="#m" x="256" y="145" fill="#ff2612"/>
<use href="#m" x="260" y="186" fill="#0a1eff"/>
<use href="#m" x="160" y="194" fill="#ff2612"/>
<use href="#m" x="232" y="260" fill="#0a1eff"/>
<use href="#m" x="258" y="159" fill="#0a1eff"/>
<use href="#m" x="181" y="149" fill="#0025b6" fill-opacity="0.75"/>
<use href="#m" x="259" y="181" fill="#0a1eff"/>
<use href="#m" x="172" y="275" fill="#ff2612"/>
<use href="#m" x="164" y="182" fill="#ff2612"/>
<use href="#m" x="174" y="275" fill="#0025b6" fill-opacity="0.75"/>
<use href="#m" x="198" y="284" fill="#ff2612"/>
<use href="#m" x="255" y="152" fill="#0a1eff"/>
<use href="#m" x="198" y="280" fill="#0025b6" fill-opacity="0.75"/>
<use href="#m" x="218" y="274" fill="#ff2612"/>
<use href="#m" x="182" y="150" fill="#0a1eff"/>
<use href="#m" x="235" y="126" fill="#0a1eff"/>
<use href="#m" x="246" y="236" fill="#ff2612"/>
<use href="#m" x="228" y="263" fill="#ff2612"/>
<use href="#m" x="221" y="122" fill="#ff2612"/>
<use href="#m" x="231" y="258" fill="#0a1eff"/>
<use href="#m" x="233" y="253" fill="#0a1eff"/>
<use href="#m" x="171" y="268" fill="#ff2612"/>
<use href="#m" x="161" y="202" fill="#ff2612"/>
<use href="#m" x="167" y="256" fill="#0a1eff"/>
<use href="#m" x="166" y="256" fill="#0025b6" fill-opacity="0.75"/>
<use href="#m" x="231" y="256" fill="#0a1eff"/>
<use href="#m" x="160" y="230" fill="#0a1eff"/>
<use href="#m" x="239" y="136" fill="#0a1eff"/>
<use href="#m" x="186" y="149" fill="#0a1eff"/>
<use href="#m" x="188" y="146" fill="#ff2612"/>
<use href="#m" x="165" y="191" fill="#0a1eff"/>
<use href="#m" x="180" y="159" fill="#0025b6" fill-opacity="0.75"/>
<use href="#m" x="241" y="235" fill="#0a1eff"/>
<use href="#m" x="246" y="140" fill="#ff2612"/>
<use href="#m" x="196" y="277" fill="#ff2612"/>
<use href="#m" x="164" y="239" fill="#ff2612"/>
<use href="#m" x="255" y="186" fill="#ff2612"/>
<use href="#m" x="163" y="222" fill="#ff2612"/>
<use href="#m" x="253" y="171" fill="#ff2612"/>
<use href="#m" x="246" y="226" fill="#ff2612"/>
<use href="#m" x="198" y="272" fill="#0025b6" fill-opacity="0.75"/>
<use href="#m" x="195" y="144" fill="#0a1eff"/>
<use href="#m" x="164" y="227" fill="#ff2612"/>
<use href="#m" x="206" y="271" fill="#ff2612"/>
<use href="#m" x="194" y="146" fill="#0a1eff"/>
<use href="#m" x="203" y="270" fill="#ff2612"/>
<use href="#m" x="179" y="166" fill="#ff2612"/>
<use href="#m" x="215" y="134" fill="#0a1eff"/>
<use href="#m" x="245" y="150" fill="#ff2612"/>
<use href="#m" x="230" y="138" fill="#0025b6" fill-opacity="0.75"/>
<use href="#m" x="167" y="232" fill="#0a1eff"/>
<use href="#m" x="179" y="259" fill="#0025b6" fill-opacity="0.75"/>
<use href="#m" x="230" y="246" fill="#ff2612"/>
<use href="#m" x="173" y="251" fill="#0025b6" fill-opacity="0.75"/>
<use href="#m" x="249" y="178" fill="#0025b6" fill-opacity="0.75"/>
<use href="#m" x="177" y="259" fill="#ff2612"/>
<use href="#m" x="219" y="138" fill="#0025b6" fill-opacity="0.75"/>
<use href="#m" x="222" y="255" fill="#ff2612"/>
<use href="#m" x="195" y="152" fill="#0025b6" fill-opacity="0.75"/>
<use href="#m" x="220" y="254" fill="#0025b6" fill-opacity="0.75"/>
<use href="#m" x="172" y="194" fill="#ff2612"/>
<use href="#m" x="216" y="140" fill="#ff2612"/>
<use href="#m" x="170" y="231" fill="#ff2612"/>
<use href="#m" x="208" y="144" fill="#ff2612"/>
<use href="#m" x="185" y="167" fill="#ff2612"/>
<use href="#m" x="233" y="146" fill="#ff2612"/>
<use href="#m" x="180" y="250" fill="#ff2612"/>
<use href="#m" x="244" y="190" fill="#ff2612"/>
<use href="#m" x="243" y="188" fill="#ff2612"/>
<use href="#m" x="180" y="184" fill="#ff2612"/>
<use href="#m" x="221" y="147" fill="#ff2612"/>
<use href="#m" x="180" y="186" fill="#ff2612"/>
<use href="#m" x="202" y="255" fill="#0025b6" fill-opacity="0.75"/>
<use href="#m" x="235" y="221" fill="#ff2612"/>
<use href="#m" x="175" y="227" fill="#ff2612"/>
<use href="#m" x="200" y="158" fill="#0a1eff"/>
<use href="#m" x="239" y="195" fill="#0025b6" fill-opacity="0.75"/>
<use href="#m" x="209" y="156" fill="#0a1eff"/>
<use href="#m" x="227" y="228" fill="#0a1eff"/>
<use href="#m" x="180" y="201" fill="#0a1eff"/>
<use href="#m" x="182" y="191" fill="#0a1eff"/>
<use href="#m" x="227" y="229" fill="#ff2612"/>
<use href="#m" x="184" y="187" fill="#ff2612"/>
<use href="#m" x="221" y="235" fill="#0a1eff"/>
<use href="#m" x="232" y="169" fill="#ff2612"/>
<use href="#m" x="216" y="237" fill="#0a1eff"/>
<use href="#m" x="217" y="236" fill="#0a1eff"/>
<use href="#m" x="192" y="178" fill="#0a1eff"/>
<use href="#m" x="218" y="161" fill="#0a1eff"/>
<use href="#m" x="195" y="242" fill="#ff2612"/>
<use href="#m" x="221" y="228" fill="#ff2612"/>
<use href="#m" x="231" y="184" fill="#0a1eff"/>
<use href="#m" x="186" y="229" fill="#ff2612"/>
<use href="#m" x="190" y="232" fill="#0a1eff"/>
<use href="#m" x="228" y="177" fill="#ff2612"/>
<use href="#m" x="230" y="196" fill="#ff2612"/>
<use href="#m" x="205" y="234" fill="#0a1eff"/>
<use href="#m" x="229" y="200" fill="#ff2612"/>
<use href="#m" x="225" y="208" fill="#0025b6" fill-opacity="0.75"/>
<use href="#m" x="199" y="228" fill="#ff2612"/>
<use href="#m" x="207" y="180" fill="#0a1eff"/>
<use href="#m" x="204" y="224" fill="#ff2612"/>
<use href="#m" x="201" y="214" fill="#0a1eff"/>
<use href="#m" x="212" y="192" fill="#0a1eff"/>
<use href="#m" x="214" y="201" fill="#0a1eff"/>
<use href="#m" x="210" y="209" fill="#0a1eff"/>
<use href="#m" x="207" y="199" fill="#0025b6" fill-opacity="0.75"/>
<circle cx="516.4" cy="203.0" r="83.0" fill="url(#rs)"/>
<g clip-path="url(#rc)">
<ellipse cx="517" cy="140" rx="85" ry="45" fill="url(#rup)"/>
<ellipse cx="520" cy="137" rx="44" ry="30" fill="url(#rh1)"/>
<ellipse cx="515" cy="262" rx="48" ry="32" fill="url(#rh2)"/>
</g>
<use href="#m" x="518" y="198" fill="#003538" fill-opacity="0.7"/>
<use href="#m" x="513" y="210" fill="#4d1f00" fill-opacity="0.7"/>
<use href="#m" x="520" y="210" fill="#4d1f00" fill-opacity="0.7"/>
<use href="#m" x="521" y="214" fill="#4d1f00" fill-opacity="0.7"/>
<use href="#m" x="509" y="193" fill="#003538" fill-opacity="0.7"/>
<use href="#m" x="529" y="213" fill="#4d1f00" fill-opacity="0.7"/>
<use href="#m" x="527" y="185" fill="#4d1f00" fill-opacity="0.7"/>
<use href="#m" x="509" y="223" fill="#003538" fill-opacity="0.7"/>
<use href="#m" x="533" y="217" fill="#003538" fill-opacity="0.7"/>
<use href="#m" x="512" y="181" fill="#003538" fill-opacity="0.7"/>
<use href="#m" x="505" y="223" fill="#4d1f00" fill-opacity="0.7"/>
<use href="#m" x="494" y="204" fill="#003538" fill-opacity="0.7"/>
<use href="#m" x="503" y="182" fill="#4d1f00" fill-opacity="0.7"/>
<use href="#m" x="529" y="182" fill="#003538" fill-opacity="0.7"/>
<use href="#m" x="492" y="189" fill="#003538" fill-opacity="0.7"/>
<use href="#m" x="537" y="183" fill="#003538" fill-opacity="0.7"/>
<use href="#m" x="488" y="189" fill="#4d1f00" fill-opacity="0.7"/>
<use href="#m" x="490" y="220" fill="#4d1f00" fill-opacity="0.7"/>
<use href="#m" x="547" y="216" fill="#4d1f00" fill-opacity="0.7"/>
<use href="#m" x="486" y="216" fill="#4d1f00" fill-opacity="0.7"/>
<use href="#m" x="485" y="216" fill="#003538" fill-opacity="0.7"/>
<use href="#m" x="547" y="219" fill="#003538" fill-opacity="0.7"/>
<use href="#m" x="534" y="233" fill="#4d1f00" fill-opacity="0.7"/>
<use href="#m" x="524" y="169" fill="#003538" fill-opacity="0.7"/>
<use href="#m" x="516" y="241" fill="#4d1f00" fill-opacity="0.7"/>
<use href="#m" x="526" y="240" fill="#003538" fill-opacity="0.7"/>
<use href="#m" x="544" y="175" fill="#4d1f00" fill-opacity="0.7"/>
<use href="#m" x="513" y="164" fill="#4d1f00" fill-opacity="0.7"/>
<use href="#m" x="486" y="177" fill="#4d1f00" fill-opacity="0.7"/>
<use href="#m" x="488" y="174" fill="#4d1f00" fill-opacity="0.7"/>
<use href="#m" x="484" y="232" fill="#4d1f00" fill-opacity="0.7"/>
<use href="#m" x="477" y="224" fill="#003538" fill-opacity="0.7"/>
<use href="#m" x="531" y="160" fill="#4d1f00" fill-opacity="0.7"/>
<use href="#m" x="475" y="221" fill="#003538" fill-opacity="0.7"/>
<use href="#m" x="501" y="244" fill="#003538" fill-opacity="0.7"/>
<use href="#m" x="528" y="159" fill="#4d1f00" fill-opacity="0.7"/>
<use href="#m" x="555" y="227" fill="#003538" fill-opacity="0.7"/>
<use href="#m" x="550" y="234" fill="#003538" fill-opacity="0.7"/>
<use href="#m" x="542" y="242" fill="#003538" fill-opacity="0.7"/>
<use href="#m" x="530" y="158" fill="#003538" fill-opacity="0.7"/>
<use href="#m" x="469" y="210" fill="#4d1f00" fill-opacity="0.7"/>
<use href="#m" x="476" y="230" fill="#003538" fill-opacity="0.7"/>
<use href="#m" x="564" y="187" fill="#4d1f00" fill-opacity="0.7"/>
<use href="#m" x="561" y="179" fill="#4d1f00" fill-opacity="0.7"/>
<use href="#m" x="499" y="155" fill="#4d1f00" fill-opacity="0.7"/>
<use href="#m" x="494" y="249" fill="#003538" fill-opacity="0.7"/>
<use href="#m" x="515" y="256" fill="#4d1f00" fill-opacity="0.7"/>
<use href="#m" x="468" y="178" fill="#4d1f00" fill-opacity="0.7"/>
<use href="#m" x="545" y="249" fill="#4d1f00" fill-opacity="0.7"/>
<use href="#m" x="474" y="170" fill="#003538" fill-opacity="0.7"/>
<use href="#m" x="565" y="228" fill="#4d1f00" fill-opacity="0.7"/>
<use href="#m" x="572" y="194" fill="#4d1f00" fill-opacity="0.7"/>
<use href="#m" x="521" y="148" fill="#003538" fill-opacity="0.7"/>
<use href="#m" x="488" y="253" fill="#4d1f00" fill-opacity="0.7"/>
<use href="#m" x="568" y="228" fill="#4d1f00" fill-opacity="0.7"/>
<use href="#m" x="513" y="260" fill="#4d1f00" fill-opacity="0.7"/>
<use href="#m" x="570" y="226" fill="#4d1f00" fill-opacity="0.7"/>
<use href="#m" x="575" y="207" fill="#4d1f00" fill-opacity="0.7"/>
<use href="#m" x="484" y="251" fill="#003538" fill-opacity="0.7"/>
<use href="#m" x="460" y="185" fill="#4d1f00" fill-opacity="0.7"/>
<use href="#m" x="474" y="162" fill="#4d1f00" fill-opacity="0.7"/>
<use href="#m" x="475" y="159" fill="#4d1f00" fill-opacity="0.7"/>
<use href="#m" x="495" y="260" fill="#4d1f00" fill-opacity="0.7"/>
<use href="#m" x="541" y="146" fill="#4d1f00" fill-opacity="0.7"/>
<use href="#m" x="464" y="173" fill="#003538" fill-opacity="0.7"/>
<use href="#m" x="479" y="154" fill="#003538" fill-opacity="0.7"/>
<use href="#m" x="578" y="201" fill="#003538" fill-opacity="0.7"/>
<use href="#m" x="510" y="140" fill="#4d1f00" fill-opacity="0.7"/>
<use href="#m" x="537" y="263" fill="#4d1f00" fill-opacity="0.7"/>
<use href="#m" x="475" y="156" fill="#003538" fill-opacity="0.7"/>
<use href="#m" x="453" y="205" fill="#003538" fill-opacity="0.7"/>
<use href="#m" x="581" y="199" fill="#4d1f00" fill-opacity="0.7"/>
<use href="#m" x="533" y="141" fill="#003538" fill-opacity="0.7"/>
<use href="#m" x="533" y="138" fill="#4d1f00" fill-opacity="0.7"/>
<use href="#m" x="566" y="163" fill="#003538" fill-opacity="0.7"/>
<use href="#m" x="573" y="236" fill="#003538" fill-opacity="0.7"/>
<use href="#m" x="542" y="264" fill="#4d1f00" fill-opacity="0.7"/>
<use href="#m" x="535" y="140" fill="#003538" fill-opacity="0.7"/>
<use href="#m" x="583" y="202" fill="#4d1f00" fill-opacity="0.7"/>
<use href="#m" x="575" y="234" fill="#003538" fill-opacity="0.7"/>
<use href="#m" x="517" y="135" fill="#4d1f00" fill-opacity="0.7"/>
<use href="#m" x="449" y="200" fill="#4d1f00" fill-opacity="0.7"/>
<use href="#m" x="507" y="135" fill="#4d1f00" fill-opacity="0.7"/>
<use href="#m" x="509" y="136" fill="#003538" fill-opacity="0.7"/>
<use href="#m" x="514" y="134" fill="#4d1f00" fill-opacity="0.7"/>
<use href="#m" x="449" y="196" fill="#003538" fill-opacity="0.7"/>
<use href="#m" x="454" y="231" fill="#003538" fill-opacity="0.7"/>
<use href="#m" x="508" y="136" fill="#003538" fill-opacity="0.7"/>
<use href="#m" x="579" y="234" fill="#4d1f00" fill-opacity="0.7"/>
<use href="#m" x="482" y="141" fill="#4d1f00" fill-opacity="0.7"/>
<use href="#m" x="452" y="233" fill="#4d1f00" fill-opacity="0.7"/>
<use href="#m" x="500" y="271" fill="#003538" fill-opacity="0.7"/>
<use href="#m" x="558" y="145" fill="#4d1f00" fill-opacity="0.7"/>
<use href="#m" x="448" y="179" fill="#4d1f00" fill-opacity="0.7"/>
<use href="#m" x="516" y="131" fill="#003538" fill-opacity="0.7"/>
<use href="#m" x="585" y="224" fill="#003538" fill-opacity="0.7"/>
<use href="#m" x="444" y="214" fill="#4d1f00" fill-opacity="0.7"/>
<use href="#m" x="489" y="270" fill="#003538" fill-opacity="0.7"/>
<use href="#m" x="447" y="230" fill="#4d1f00" fill-opacity="0.7"/>
<use href="#m" x="571" y="250" fill="#003538" fill-opacity="0.7"/>
<use href="#m" x="582" y="233" fill="#003538" fill-opacity="0.7"/>
<use href="#m" x="506" y="276" fill="#4d1f00" fill-opacity="0.7"/>
<use href="#m" x="590" y="213" fill="#4d1f00" fill-opacity="0.7"/>
<use href="#m" x="587" y="217" fill="#003538" fill-opacity="0.7"/>
<use href="#m" x="581" y="167" fill="#003538" fill-opacity="0.7"/>
<use href="#m" x="553" y="270" fill="#4d1f00" fill-opacity="0.7"/>
<use href="#m" x="580" y="243" fill="#4d1f00" fill-opacity="0.7"/>
<use href="#m" x="467" y="146" fill="#4d1f00" fill-opacity="0.7"/>
<use href="#m" x="450" y="237" fill="#003538" fill-opacity="0.7"/>
<use href="#m" x="580" y="243" fill="#4d1f00" fill-opacity="0.7"/>
<use href="#m" x="581" y="167" fill="#003538" fill-opacity="0.7"/>
<use href="#m" x="449" y="236" fill="#003538" fill-opacity="0.7"/>
<use href="#m" x="515" y="129" fill="#003538" fill-opacity="0.7"/>
<use href="#m" x="444" y="227" fill="#4d1f00" fill-opacity="0.7"/>
<use href="#m" x="494" y="276" fill="#4d1f00" fill-opacity="0.7"/>
<use href="#m" x="538" y="276" fill="#003538" fill-opacity="0.7"/>
<use href="#m" x="442" y="189" fill="#003538" fill-opacity="0.7"/>
<use href="#m" x="581" y="242" fill="#003538" fill-opacity="0.7"/>
<use href="#m" x="588" y="175" fill="#003538" fill-opacity="0.7"/>
<use href="#m" x="448" y="166" fill="#4d1f00" fill-opacity="0.7"/>
<use href="#m" x="587" y="171" fill="#4d1f00" fill-opacity="0.7"/>
<use href="#m" x="567" y="144" fill="#4d1f00" fill-opacity="0.7"/>
<use href="#m" x="591" y="186" fill="#003538" fill-opacity="0.7"/>
<use href="#m" x="546" y="131" fill="#4d1f00" fill-opacity="0.7"/>
<use href="#m" x="506" y="280" fill="#003538" fill-opacity="0.7"/>
<use href="#m" x="528" y="281" fill="#4d1f00" fill-opacity="0.7"/>
<use href="#m" x="442" y="181" fill="#003538" fill-opacity="0.7"/>
<use href="#m" x="594" y="212" fill="#4d1f00" fill-opacity="0.7"/>
<use href="#m" x="451" y="159" fill="#4d1f00" fill-opacity="0.7"/>
<use href="#m" x="473" y="267" fill="#003538" fill-opacity="0.7"/>
<use href="#m" x="473" y="271" fill="#4d1f00" fill-opacity="0.7"/>
<use href="#m" x="484" y="131" fill="#003538" fill-opacity="0.7"/>
<use href="#m" x="575" y="256" fill="#4d1f00" fill-opacity="0.7"/>
<use href="#m" x="493" y="127" fill="#4d1f00" fill-opacity="0.7"/>
<use href="#m" x="487" y="278" fill="#4d1f00" fill-opacity="0.7"/>
<use href="#m" x="495" y="281" fill="#4d1f00" fill-opacity="0.7"/>
<use href="#m" x="508" y="123" fill="#4d1f00" fill-opacity="0.7"/>
<use href="#m" x="436" y="196" fill="#4d1f00" fill-opacity="0.7"/>
<use href="#m" x="439" y="226" fill="#4d1f00" fill-opacity="0.7"/>
<use href="#m" x="436" y="193" fill="#4d1f00" fill-opacity="0.7"/>
<use href="#m" x="545" y="278" fill="#003538" fill-opacity="0.7"/>
<use href="#m" x="502" y="284" fill="#4d1f00" fill-opacity="0.7"/>
<use href="#m" x="503" y="126" fill="#003538" fill-opacity="0.7"/>
<use href="#m" x="592" y="175" fill="#4d1f00" fill-opacity="0.7"/>
<use href="#m" x="499" y="124" fill="#4d1f00" fill-opacity="0.7"/>
<use href="#m" x="585" y="161" fill="#003538" fill-opacity="0.7"/>
<use href="#m" x="547" y="128" fill="#003538" fill-opacity="0.7"/>
<use href="#m" x="568" y="140" fill="#003538" fill-opacity="0.7"/>
<use href="#m" x="446" y="247" fill="#4d1f00" fill-opacity="0.7"/>
<use href="#m" x="442" y="171" fill="#003538" fill-opacity="0.7"/>
<use href="#m" x="548" y="279" fill="#4d1f00" fill-opacity="0.7"/>
<use href="#m" x="436" y="189" fill="#003538" fill-opacity="0.7"/>
<use href="#m" x="529" y="284" fill="#4d1f00" fill-opacity="0.7"/>
<use href="#m" x="596" y="191" fill="#003538" fill-opacity="0.7"/>
<use href="#m" x="520" y="286" fill="#4d1f00" fill-opacity="0.7"/>
<use href="#m" x="440" y="232" fill="#4d1f00" fill-opacity="0.7"/>
<use href="#m" x="518" y="285" fill="#003538" fill-opacity="0.7"/>
<use href="#m" x="433" y="196" fill="#ff2612"/>
<use href="#m" x="434" y="214" fill="#ff2612"/>
<use href="#m" x="434" y="217" fill="#ff2612"/>
<use href="#m" x="435" y="183" fill="#ff2612"/>
<use href="#m" x="437" y="175" fill="#ff2612"/>
<use href="#m" x="437" y="178" fill="#0025b6" fill-opacity="0.75"/>
<use href="#m" x="439" y="234" fill="#ff2612"/>
<use href="#m" x="442" y="165" fill="#ff2612"/>
<use href="#m" x="445" y="163" fill="#0025b6" fill-opacity="0.75"/>
<use href="#m" x="445" y="244" fill="#0025b6" fill-opacity="0.75"/>
<use href="#m" x="449" y="251" fill="#ff2612"/>
<use href="#m" x="450" y="255" fill="#ff2612"/>
<use href="#m" x="454" y="147" fill="#ff2612"/>
<use href="#m" x="457" y="259" fill="#0a1eff"/>
<use href="#m" x="458" y="262" fill="#ff2612"/>
<use href="#m" x="473" y="275" fill="#ff2612"/>
<use href="#m" x="476" y="132" fill="#0025b6" fill-opacity="0.75"/>
<use href="#m" x="479" y="129" fill="#ff2612"/>
<use href="#m" x="483" y="129" fill="#0025b6" fill-opacity="0.75"/>
<use href="#m" x="484" y="280" fill="#ff2612"/>
<use href="#m" x="491" y="283" fill="#ff2612"/>
<use href="#m" x="493" y="123" fill="#ff2612"/>
<use href="#m" x="494" y="125" fill="#0a1eff"/>
<use href="#m" x="499" y="121" fill="#ff2612"/>
<use href="#m" x="499" y="120" fill="#ff2612"/>
<use href="#m" x="509" y="121" fill="#0a1eff"/>
<use href="#m" x="515" y="288" fill="#ff2612"/>
<use href="#m" x="518" y="119" fill="#ff2612"/>
<use href="#m" x="528" y="284" fill="#0025b6" fill-opacity="0.75"/>
<use href="#m" x="531" y="284" fill="#0a1eff"/>
<use href="#m" x="534" y="123" fill="#0a1eff"/>
<use href="#m" x="545" y="279" fill="#0a1eff"/>
<use href="#m" x="548" y="280" fill="#ff2612"/>
<use href="#m" x="566" y="268" fill="#0a1eff"/>
<use href="#m" x="566" y="268" fill="#0a1eff"/>
<use href="#m" x="582" y="151" fill="#ff2612"/>
<use href="#m" x="586" y="155" fill="#ff2612"/>
<use href="#m" x="589" y="240" fill="#0025b6" fill-opacity="0.75"/>
<use href="#m" x="591" y="240" fill="#ff2612"/>
<use href="#m" x="597" y="221" fill="#ff2612"/>
<use href="#m" x="597" y="192" fill="#0025b6" fill-opacity="0.75"/>
<use href="#m" x="597" y="226" fill="#ff2612"/>
<use href="#m" x="597" y="224" fill="#ff2612"/>
<use href="#m" x="597" y="201" fill="#0025b6" fill-opacity="0.75"/>
<use href="#m" x="598" y="186" fill="#ff2612"/>
<use href="#m" x="598" y="184" fill="#ff2612"/>
<use href="#m" x="558" y="132" fill="#0025b6" fill-opacity="0.75"/>
<use href="#m" x="450" y="155" fill="#0a1eff"/>
<use href="#m" x="601" y="210" fill="#ff2612"/>
<use href="#m" x="596" y="172" fill="#ff2612"/>
<use href="#m" x="500" y="120" fill="#ff2612"/>
<use href="#m" x="463" y="138" fill="#ff2612"/>
<use href="#m" x="434" y="184" fill="#ff2612"/>
<use href="#m" x="436" y="217" fill="#0025b6" fill-opacity="0.75"/>
<use href="#m" x="468" y="137" fill="#0025b6" fill-opacity="0.75"/>
<use href="#m" x="496" y="283" fill="#0025b6" fill-opacity="0.75"/>
<use href="#m" x="565" y="271" fill="#ff2612"/>
<use href="#m" x="448" y="156" fill="#ff2612"/>
<use href="#m" x="587" y="247" fill="#ff2612"/>
<use href="#m" x="454" y="258" fill="#ff2612"/>
<use href="#m" x="446" y="158" fill="#ff2612"/>
<use href="#m" x="548" y="279" fill="#0a1eff"/>
<use href="#m" x="522" y="120" fill="#ff2612"/>
<use href="#m" x="599" y="201" fill="#ff2612"/>
<use href="#m" x="598" y="200" fill="#0025b6" fill-opacity="0.75"/>
<use href="#m" x="476" y="274" fill="#0025b6" fill-opacity="0.75"/>
<use href="#m" x="505" y="286" fill="#ff2612"/>
<use href="#m" x="575" y="262" fill="#ff2612"/>
<use href="#m" x="573" y="263" fill="#ff2612"/>
<use href="#m" x="434" y="213" fill="#0a1eff"/>
<use href="#m" x="497" y="282" fill="#0a1eff"/>
<use href="#m" x="563" y="134" fill="#ff2612"/>
<use href="#m" x="461" y="140" fill="#ff2612"/>
<use href="#m" x="437" y="224" fill="#0025b6" fill-opacity="0.75"/>
<use href="#m" x="589" y="244" fill="#ff2612"/>
<use href="#m" x="466" y="270" fill="#ff2612"/>
<use href="#m" x="442" y="238" fill="#0a1eff"/>
<use href="#m" x="591" y="239" fill="#ff2612"/>
<use href="#m" x="598" y="216" fill="#ff2612"/>
<use href="#m" x="502" y="120" fill="#ff2612"/>
<use href="#m" x="483" y="280" fill="#ff2612"/>
<use href="#m" x="509" y="285" fill="#ff2612"/>
<use href="#m" x="568" y="268" fill="#ff2612"/>
<use href="#m" x="480" y="278" fill="#ff2612"/>
<use href="#m" x="515" y="121" fill="#0a1eff"/>
<use href="#m" x="440" y="170" fill="#ff2612"/>
<use href="#m" x="560" y="134" fill="#0a1eff"/>
<use href="#m" x="529" y="285" fill="#ff2612"/>
<use href="#m" x="549" y="128" fill="#0025b6" fill-opacity="0.75"/>
<use href="#m" x="513" y="120" fill="#ff2612"/>
<use href="#m" x="435" y="193" fill="#0a1eff"/>
<use href="#m" x="457" y="259" fill="#0a1eff"/>
<use href="#m" x="566" y="270" fill="#ff2612"/>
<use href="#m" x="596" y="217" fill="#0025b6" fill-opacity="0.75"/>
<use href="#m" x="444" y="167" fill="#0025b6" fill-opacity="0.75"/>
<use href="#m" x="590" y="165" fill="#ff2612"/>
<use href="#m" x="464" y="266" fill="#ff2612"/>
<use href="#m" x="533" y="122" fill="#ff2612"/>
<use href="#m" x="582" y="252" fill="#ff2612"/>
<use href="#m" x="465" y="265" fill="#0a1eff"/>
<use href="#m" x="549" y="126" fill="#ff2612"/>
<use href="#m" x="434" y="192" fill="#ff2612"/>
<use href="#m" x="474" y="135" fill="#0a1eff"/>
<use href="#m" x="523" y="286" fill="#ff2612"/>
<use href="#m" x="579" y="149" fill="#ff2612"/>
<use href="#m" x="596" y="219" fill="#0025b6" fill-opacity="0.75"/>
<use href="#m" x="585" y="163" fill="#0a1eff"/>
<use href="#m" x="545" y="280" fill="#ff2612"/>
<use href="#m" x="452" y="255" fill="#ff2612"/>
<use href="#m" x="586" y="161" fill="#0025b6" fill-opacity="0.75"/>
<use href="#m" x="556" y="274" fill="#0025b6" fill-opacity="0.75"/>
<use href="#m" x="561" y="273" fill="#ff2612"/>
<use href="#m" x="544" y="127" fill="#0025b6" fill-opacity="0.75"/>
<use href="#m" x="516" y="120" fill="#ff2612"/>
<use href="#m" x="455" y="151" fill="#0025b6" fill-opacity="0.75"/>
<use href="#m" x="591" y="234" fill="#0a1eff"/>
<use href="#m" x="595" y="225" fill="#ff2612"/>
<use href="#m" x="544" y="129" fill="#0025b6" fill-opacity="0.75"/>
<use href="#m" x="501" y="283" fill="#ff2612"/>
<use href="#m" x="455" y="256" fill="#0025b6" fill-opacity="0.75"/>
<use href="#m" x="561" y="271" fill="#ff2612"/>
<use href="#m" x="536" y="282" fill="#ff2612"/>
<use href="#m" x="596" y="204" fill="#0025b6" fill-opacity="0.75"/>
<use href="#m" x="596" y="201" fill="#0025b6" fill-opacity="0.75"/>
<use href="#m" x="440" y="224" fill="#0025b6" fill-opacity="0.75"/>
<use href="#m" x="595" y="190" fill="#0025b6" fill-opacity="0.75"/>
<use href="#m" x="544" y="129" fill="#0a1eff"/>
<use href="#m" x="464" y="266" fill="#ff2612"/>
<use href="#m" x="473" y="135" fill="#ff2612"/>
<use href="#m" x="487" y="129" fill="#0025b6" fill-opacity="0.75"/>
<use href="#m" x="486" y="277" fill="#0a1eff"/>
<use href="#m" x="574" y="150" fill="#0a1eff"/>
<use href="#m" x="486" y="127" fill="#ff2612"/>
<use href="#m" x="482" y="277" fill="#ff2612"/>
<use href="#m" x="591" y="175" fill="#0025b6" fill-opacity="0.75"/>
<use href="#m" x="508" y="284" fill="#ff2612"/>
<use href="#m" x="598" y="188" fill="#ff2612"/>
<use href="#m" x="443" y="234" fill="#0025b6" fill-opacity="0.75"/>
<use href="#m" x="495" y="279" fill="#0025b6" fill-opacity="0.75"/>
<use href="#m" x="590" y="175" fill="#0025b6" fill-opacity="0.75"/>
<use href="#m" x="594" y="180" fill="#ff2612"/>
<use href="#m" x="441" y="177" fill="#ff2612"/>
<use href="#m" x="576" y="257" fill="#ff2612"/>
<use href="#m" x="575" y="257" fill="#ff2612"/>
<use href="#m" x="574" y="259" fill="#ff2612"/>
<use href="#m" x="595" y="188" fill="#ff2612"/>
<use href="#m" x="460" y="149" fill="#0a1eff"/>
<use href="#m" x="528" y="124" fill="#ff2612"/>
<use href="#m" x="443" y="179" fill="#0025b6" fill-opacity="0.75"/>
<use href="#m" x="578" y="152" fill="#ff2612"/>
<use href="#m" x="584" y="241" fill="#0a1eff"/>
<use href="#m" x="439" y="211" fill="#0a1eff"/>
<use href="#m" x="444" y="235" fill="#ff2612"/>
<use href="#m" x="516" y="124" fill="#ff2612"/>
<use href="#m" x="561" y="138" fill="#ff2612"/>
<use href="#m" x="485" y="132" fill="#0025b6" fill-opacity="0.75"/>
<use href="#m" x="592" y="223" fill="#0025b6" fill-opacity="0.75"/>
<use href="#m" x="556" y="135" fill="#0a1eff"/>
<use href="#m" x="448" y="161" fill="#ff2612"/>
<use href="#m" x="511" y="125" fill="#ff2612"/>
<use href="#m" x="579" y="157" fill="#0a1eff"/>
<use href="#m" x="593" y="208" fill="#0a1eff"/>
<use href="#m" x="462" y="148" fill="#0025b6" fill-opacity="0.75"/>
<use href="#m" x="523" y="125" fill="#0a1eff"/>
<use href="#m" x="581" y="161" fill="#0025b6" fill-opacity="0.75"/>
<use href="#m" x="490" y="128" fill="#ff2612"/>
<use href="#m" x="438" y="199" fill="#ff2612"/>
<use href="#m" x="524" y="281" fill="#ff2612"/>
<use href="#m" x="492" y="276" fill="#0025b6" fill-opacity="0.75"/>
<use href="#m" x="447" y="236" fill="#0025b6" fill-opacity="0.75"/>
<use href="#m" x="442" y="217" fill="#0a1eff"/>
<use href="#m" x="544" y="275" fill="#ff2612"/>
<use href="#m" x="457" y="253" fill="#ff2612"/>
<use href="#m" x="442" y="184" fill="#0025b6" fill-opacity="0.75"/>
<use href="#m" x="569" y="145" fill="#ff2612"/>
<use href="#m" x="488" y="276" fill="#ff2612"/>
<use href="#m" x="461" y="150" fill="#0a1eff"/>
<use href="#m" x="586" y="237" fill="#ff2612"/>
<use href="#m" x="440" y="216" fill="#ff2612"/>
<use href="#m" x="548" y="273" fill="#0025b6" fill-opacity="0.75"/>
<use href="#m" x="448" y="236" fill="#0a1eff"/>
<use href="#m" x="527" y="278" fill="#ff2612"/>
<use href="#m" x="457" y="250" fill="#0025b6" fill-opacity="0.75"/>
<use href="#m" x="449" y="172" fill="#0025b6" fill-opacity="0.75"/>
<use href="#m" x="498" y="130" fill="#0a1eff"/>
<use href="#m" x="523" y="278" fill="#0a1eff"/>
<use href="#m" x="567" y="146" fill="#ff2612"/>
<use href="#m" x="521" y="128" fill="#0a1eff"/>
<use href="#m" x="517" y="278" fill="#ff2612"/>
<use href="#m" x="564" y="261" fill="#ff2612"/>
<use href="#m" x="473" y="265" fill="#ff2612"/>
<use href="#m" x="520" y="126" fill="#ff2612"/>
<use href="#m" x="478" y="267" fill="#0a1eff"/>
<use href="#m" x="572" y="254" fill="#ff2612"/>
<use href="#m" x="443" y="210" fill="#0025b6" fill-opacity="0.75"/>
<use href="#m" x="517" y="128" fill="#ff2612"/>
<use href="#m" x="573" y="252" fill="#ff2612"/>
<use href="#m" x="588" y="226" fill="#ff2612"/>
<use href="#m" x="530" y="276" fill="#ff2612"/>
<use href="#m" x="581" y="166" fill="#ff2612"/>
<use href="#m" x="534" y="132" fill="#0025b6" fill-opacity="0.75"/>
<use href="#m" x="494" y="274" fill="#ff2612"/>
<use href="#m" x="444" y="191" fill="#0a1eff"/>
<use href="#m" x="457" y="247" fill="#ff2612"/>
<use href="#m" x="450" y="167" fill="#ff2612"/>
<use href="#m" x="482" y="138" fill="#0025b6" fill-opacity="0.75"/>
<use href="#m" x="587" y="180" fill="#ff2612"/>
<use href="#m" x="536" y="131" fill="#ff2612"/>
<use href="#m" x="583" y="173" fill="#0a1eff"/>
<use href="#m" x="497" y="271" fill="#0025b6" fill-opacity="0.75"/>
<use href="#m" x="512" y="129" fill="#ff2612"/>
<use href="#m" x="462" y="250" fill="#0025b6" fill-opacity="0.75"/>
<use href="#m" x="588" y="187" fill="#ff2612"/>
<use href="#m" x="443" y="215" fill="#ff2612"/>
<use href="#m" x="589" y="211" fill="#0025b6" fill-opacity="0.75"/>
<use href="#m" x="474" y="264" fill="#ff2612"/>
<use href="#m" x="585" y="179" fill="#0a1eff"/>
<use href="#m" x="539" y="272" fill="#ff2612"/>
<use href="#m" x="568" y="154" fill="#0a1eff"/>
<use href="#m" x="445" y="191" fill="#ff2612"/>
<use href="#m" x="466" y="256" fill="#ff2612"/>
<use href="#m" x="588" y="209" fill="#0025b6" fill-opacity="0.75"/>
<use href="#m" x="467" y="256" fill="#ff2612"/>
<use href="#m" x="459" y="160" fill="#0a1eff"/>
<use href="#m" x="465" y="253" fill="#ff2612"/>
<use href="#m" x="575" y="243" fill="#0a1eff"/>
<use href="#m" x="480" y="141" fill="#ff2612"/>
<use href="#m" x="463" y="252" fill="#ff2612"/>
<use href="#m" x="479" y="142" fill="#ff2612"/>
<use href="#m" x="548" y="138" fill="#ff2612"/>
<use href="#m" x="451" y="230" fill="#0a1eff"/>
<use href="#m" x="540" y="136" fill="#0a1eff"/>
<use href="#m" x="453" y="169" fill="#ff2612"/>
<use href="#m" x="552" y="265" fill="#ff2612"/>
<use href="#m" x="543" y="136" fill="#ff2612"/>
<use href="#m" x="457" y="168" fill="#0a1eff"/>
<use href="#m" x="584" y="188" fill="#0025b6" fill-opacity="0.75"/>
<use href="#m" x="568" y="156" fill="#ff2612"/>
<use href="#m" x="555" y="262" fill="#0025b6" fill-opacity="0.75"/>
<use href="#m" x="497" y="269" fill="#0a1eff"/>
<use href="#m" x="578" y="170" fill="#0025b6" fill-opacity="0.75"/>
<use href="#m" x="510" y="271" fill="#0025b6" fill-opacity="0.75"/>
<use href="#m" x="513" y="272" fill="#0a1eff"/>
<use href="#m" x="551" y="264" fill="#ff2612"/>
<use href="#m" x="560" y="146" fill="#ff2612"/>
<use href="#m" x="579" y="175" fill="#0a1eff"/>
<use href="#m" x="582" y="185" fill="#0025b6" fill-opacity="0.75"/>
<use href="#m" x="549" y="141" fill="#ff2612"/>
<use href="#m" x="496" y="136" fill="#ff2612"/>
<use href="#m" x="446" y="199" fill="#ff2612"/>
<use href="#m" x="529" y="272" fill="#ff2612"/>
<use href="#m" x="543" y="266" fill="#0a1eff"/>
<use href="#m" x="587" y="199" fill="#ff2612"/>
<use href="#m" x="468" y="155" fill="#0025b6" fill-opacity="0.75"/>
<use href="#m" x="547" y="142" fill="#0025b6" fill-opacity="0.75"/>
<use href="#m" x="582" y="224" fill="#ff2612"/>
<use href="#m" x="517" y="135" fill="#0a1eff"/>
<use href="#m" x="492" y="266" fill="#0a1eff"/>
<use href="#m" x="520" y="136" fill="#0025b6" fill-opacity="0.75"/>
<use href="#m" x="564" y="153" fill="#ff2612"/>
<use href="#m" x="584" y="201" fill="#0a1eff"/>
<use href="#m" x="528" y="270" fill="#ff2612"/>
<use href="#m" x="541" y="266" fill="#ff2612"/>
<use href="#m" x="526" y="271" fill="#ff2612"/>
<use href="#m" x="449" y="210" fill="#ff2612"/>
<use href="#m" x="455" y="178" fill="#0a1eff"/>
<use href="#m" x="510" y="135" fill="#ff2612"/>
<use href="#m" x="555" y="257" fill="#0a1eff"/>
<use href="#m" x="482" y="147" fill="#0025b6" fill-opacity="0.75"/>
<use href="#m" x="564" y="155" fill="#ff2612"/>
<use href="#m" x="455" y="182" fill="#0a1eff"/>
<use href="#m" x="569" y="241" fill="#0025b6" fill-opacity="0.75"/>
<use href="#m" x="582" y="196" fill="#0a1eff"/>
<use href="#m" x="579" y="219" fill="#0a1eff"/>
<use href="#m" x="470" y="251" fill="#ff2612"/>
<use href="#m" x="461" y="237" fill="#ff2612"/>
<use href="#m" x="581" y="195" fill="#ff2612"/>
<use href="#m" x="579" y="187" fill="#ff2612"/>
<use href="#m" x="563" y="249" fill="#ff2612"/>
<use href="#m" x="581" y="196" fill="#ff2612"/>
<use href="#m" x="458" y="179" fill="#0025b6" fill-opacity="0.75"/>
<use href="#m" x="482" y="150" fill="#0025b6" fill-opacity="0.75"/>
<use href="#m" x="511" y="265" fill="#0a1eff"/>
<use href="#m" x="578" y="195" fill="#0025b6" fill-opacity="0.75"/>
<use href="#m" x="458" y="182" fill="#0a1eff"/>
<use href="#m" x="480" y="153" fill="#0025b6" fill-opacity="0.75"/>
<use href="#m" x="546" y="148" fill="#ff2612"/>
<use href="#m" x="544" y="145" fill="#ff2612"/>
<use href="#m" x="572" y="228" fill="#0025b6" fill-opacity="0.75"/>
<use href="#m" x="471" y="245" fill="#ff2612"/>
<use href="#m" x="559" y="248" fill="#ff2612"/>
<use href="#m" x="497" y="261" fill="#ff2612"/>
<use href="#m" x="492" y="147" fill="#0025b6" fill-opacity="0.75"/>
<use href="#m" x="577" y="209" fill="#ff2612"/>
<use href="#m" x="577" y="197" fill="#0a1eff"/>
<use href="#m" x="474" y="160" fill="#0a1eff"/>
<use href="#m" x="500" y="145" fill="#0a1eff"/>
<use href="#m" x="573" y="185" fill="#0025b6" fill-opacity="0.75"/>
<use href="#m" x="491" y="148" fill="#ff2612"/>
<use href="#m" x="574" y="217" fill="#0025b6" fill-opacity="0.75"/>
<use href="#m" x="507" y="262" fill="#0a1eff"/>
<use href="#m" x="460" y="223" fill="#ff2612"/>
<use href="#m" x="460" y="182" fill="#ff2612"/>
<use href="#m" x="539" y="257" fill="#0a1eff"/>
<use href="#m" x="466" y="235" fill="#ff2612"/>
<use href="#m" x="571" y="180" fill="#ff2612"/>
<use href="#m" x="571" y="222" fill="#0025b6" fill-opacity="0.75"/>
<use href="#m" x="499" y="148" fill="#0a1eff"/>
<use href="#m" x="522" y="145" fill="#0025b6" fill-opacity="0.75"/>
<use href="#m" x="462" y="225" fill="#ff2612"/>
<use href="#m" x="470" y="236" fill="#0a1eff"/>
<use href="#m" x="458" y="197" fill="#ff2612"/>
<use href="#m" x="462" y="224" fill="#ff2612"/>
<use href="#m" x="459" y="205" fill="#ff2612"/>
<use href="#m" x="518" y="260" fill="#0a1eff"/>
<use href="#m" x="470" y="170" fill="#0025b6" fill-opacity="0.75"/>
<use href="#m" x="522" y="147" fill="#0025b6" fill-opacity="0.75"/>
<use href="#m" x="469" y="171" fill="#ff2612"/>
<use href="#m" x="463" y="184" fill="#ff2612"/>
<use href="#m" x="477" y="163" fill="#0a1eff"/>
<use href="#m" x="569" y="182" fill="#ff2612"/>
<use href="#m" x="513" y="147" fill="#ff2612"/>
<use href="#m" x="550" y="160" fill="#0025b6" fill-opacity="0.75"/>
<use href="#m" x="494" y="153" fill="#0a1eff"/>
<use href="#m" x="551" y="246" fill="#0025b6" fill-opacity="0.75"/>
<use href="#m" x="464" y="219" fill="#0025b6" fill-opacity="0.75"/>
<use href="#m" x="548" y="248" fill="#ff2612"/>
<use href="#m" x="556" y="167" fill="#0025b6" fill-opacity="0.75"/>
<use href="#m" x="547" y="157" fill="#ff2612"/>
<use href="#m" x="529" y="255" fill="#0025b6" fill-opacity="0.75"/>
<use href="#m" x="487" y="247" fill="#ff2612"/>
<use href="#m" x="557" y="168" fill="#0025b6" fill-opacity="0.75"/>
<use href="#m" x="477" y="239" fill="#ff2612"/>
<use href="#m" x="496" y="154" fill="#ff2612"/>
<use href="#m" x="568" y="189" fill="#ff2612"/>
<use href="#m" x="487" y="248" fill="#ff2612"/>
<use href="#m" x="549" y="162" fill="#ff2612"/>
<use href="#m" x="520" y="255" fill="#ff2612"/>
<use href="#m" x="567" y="189" fill="#ff2612"/>
<use href="#m" x="561" y="230" fill="#ff2612"/>
<use href="#m" x="500" y="252" fill="#ff2612"/>
<use href="#m" x="564" y="189" fill="#ff2612"/>
<use href="#m" x="543" y="161" fill="#ff2612"/>
<use href="#m" x="521" y="152" fill="#ff2612"/>
<use href="#m" x="476" y="176" fill="#0a1eff"/>
<use href="#m" x="526" y="156" fill="#0025b6" fill-opacity="0.75"/>
<use href="#m" x="479" y="173" fill="#0a1eff"/>
<use href="#m" x="561" y="221" fill="#0025b6" fill-opacity="0.75"/>
<use href="#m" x="469" y="193" fill="#ff2612"/>
<use href="#m" x="530" y="158" fill="#0025b6" fill-opacity="0.75"/>
<use href="#m" x="549" y="171" fill="#0025b6" fill-opacity="0.75"/>
<use href="#m" x="520" y="157" fill="#0a1eff"/>
<use href="#m" x="484" y="236" fill="#ff2612"/>
<use href="#m" x="524" y="158" fill="#0a1eff"/>
<use href="#m" x="497" y="162" fill="#ff2612"/>
<use href="#m" x="508" y="246" fill="#0a1eff"/>
<use href="#m" x="472" y="203" fill="#ff2612"/>
<use href="#m" x="477" y="224" fill="#ff2612"/>
<use href="#m" x="483" y="176" fill="#0a1eff"/>
<use href="#m" x="548" y="173" fill="#0025b6" fill-opacity="0.75"/>
<use href="#m" x="553" y="226" fill="#0a1eff"/>
<use href="#m" x="518" y="246" fill="#0a1eff"/>
<use href="#m" x="549" y="176" fill="#ff2612"/>
<use href="#m" x="475" y="195" fill="#ff2612"/>
<use href="#m" x="475" y="203" fill="#ff2612"/>
<use href="#m" x="557" y="210" fill="#ff2612"/>
<use href="#m" x="543" y="171" fill="#ff2612"/>
<use href="#m" x="529" y="243" fill="#ff2612"/>
<use href="#m" x="552" y="223" fill="#ff2612"/>
<use href="#m" x="480" y="219" fill="#ff2612"/>
<use href="#m" x="493" y="231" fill="#ff2612"/>
<use href="#m" x="525" y="239" fill="#ff2612"/>
<use href="#m" x="480" y="202" fill="#ff2612"/>
<use href="#m" x="492" y="176" fill="#0a1eff"/>
<use href="#m" x="498" y="172" fill="#0025b6" fill-opacity="0.75"/>
<use href="#m" x="534" y="172" fill="#0a1eff"/>
<use href="#m" x="532" y="235" fill="#0025b6" fill-opacity="0.75"/>
<use href="#m" x="517" y="238" fill="#ff2612"/>
<use href="#m" x="495" y="230" fill="#0025b6" fill-opacity="0.75"/>
<use href="#m" x="548" y="214" fill="#0025b6" fill-opacity="0.75"/>
<use href="#m" x="550" y="202" fill="#0025b6" fill-opacity="0.75"/>
<use href="#m" x="547" y="188" fill="#ff2612"/>
<use href="#m" x="503" y="174" fill="#0025b6" fill-opacity="0.75"/>
<use href="#m" x="525" y="234" fill="#ff2612"/>
<use href="#m" x="546" y="214" fill="#ff2612"/>
<use href="#m" x="491" y="220" fill="#0025b6" fill-opacity="0.75"/>
<use href="#m" x="516" y="234" fill="#0025b6" fill-opacity="0.75"/>
<use href="#m" x="528" y="232" fill="#ff2612"/>
<use href="#m" x="542" y="188" fill="#ff2612"/>
<use href="#m" x="515" y="232" fill="#0025b6" fill-opacity="0.75"/>
<use href="#m" x="488" y="204" fill="#ff2612"/>
<use href="#m" x="491" y="191" fill="#ff2612"/>
<use href="#m" x="528" y="180" fill="#0a1eff"/>
<use href="#m" x="491" y="207" fill="#0025b6" fill-opacity="0.75"/>
<use href="#m" x="535" y="221" fill="#0a1eff"/>
<use href="#m" x="499" y="222" fill="#ff2612"/>
<use href="#m" x="510" y="179" fill="#ff2612"/>
<use href="#m" x="532" y="185" fill="#0025b6" fill-opacity="0.75"/>
<use href="#m" x="495" y="209" fill="#ff2612"/>
<use href="#m" x="497" y="212" fill="#ff2612"/>
<use href="#m" x="521" y="224" fill="#ff2612"/>
<use href="#m" x="532" y="191" fill="#0025b6" fill-opacity="0.75"/>
<use href="#m" x="530" y="190" fill="#0a1eff"/>
<use href="#m" x="534" y="210" fill="#0a1eff"/>
<use href="#m" x="510" y="220" fill="#ff2612"/>
<use href="#m" x="503" y="213" fill="#0a1eff"/>
<use href="#m" x="522" y="217" fill="#ff2612"/>
<use href="#m" x="511" y="190" fill="#ff2612"/>
<use href="#m" x="518" y="191" fill="#ff2612"/>
<use href="#m" x="519" y="212" fill="#ff2612"/>
<use href="#m" x="514" y="198" fill="#0a1eff"/>
<g>
<line x1="91.5" y1="108" x2="91.5" y2="297.5" stroke="#262626" stroke-width="1"/>
<line x1="91.5" y1="297.3" x2="179.2" y2="353.6" stroke="#262626" stroke-width="1"/>
<line x1="179.2" y1="353.6" x2="324.5" y2="298.3" stroke="#262626" stroke-width="1"/>
<line x1="91.5" y1="123.2" x2="88.2" y2="122.1" stroke="#262626" stroke-width="0.9"/>
<line x1="91.5" y1="142.6" x2="88.2" y2="141.5" stroke="#262626" stroke-width="0.9"/>
<line x1="91.5" y1="162" x2="88.2" y2="160.9" stroke="#262626" stroke-width="0.9"/>
<line x1="91.5" y1="181.4" x2="88.2" y2="180.3" stroke="#262626" stroke-width="0.9"/>
<line x1="91.5" y1="200.7" x2="88.2" y2="199.6" stroke="#262626" stroke-width="0.9"/>
<line x1="91.5" y1="220.1" x2="88.2" y2="219" stroke="#262626" stroke-width="0.9"/>
<line x1="91.5" y1="239.5" x2="88.2" y2="238.4" stroke="#262626" stroke-width="0.9"/>
<line x1="91.5" y1="258.9" x2="88.2" y2="257.8" stroke="#262626" stroke-width="0.9"/>
<line x1="91.5" y1="278.3" x2="88.2" y2="277.2" stroke="#262626" stroke-width="0.9"/>
<line x1="103.9" y1="307.9" x2="107.1" y2="306.6" stroke="#262626" stroke-width="0.9"/>
<line x1="140.4" y1="330.9" x2="143.6" y2="329.6" stroke="#262626" stroke-width="0.9"/>
<line x1="174.3" y1="352.9" x2="177.5" y2="351.6" stroke="#262626" stroke-width="0.9"/>
<line x1="208.6" y1="342.9" x2="205.8" y2="341.1" stroke="#262626" stroke-width="0.9"/>
<line x1="252" y1="326.4" x2="249.2" y2="324.6" stroke="#262626" stroke-width="0.9"/>
<line x1="296" y1="309.5" x2="293.2" y2="307.7" stroke="#262626" stroke-width="0.9"/>
<line x1="399.3" y1="123" x2="399.3" y2="268.6" stroke="#262626" stroke-width="1"/>
<line x1="399.3" y1="268.4" x2="500.9" y2="334" stroke="#262626" stroke-width="1"/>
<line x1="500.9" y1="334" x2="633" y2="283" stroke="#262626" stroke-width="1"/>
<line x1="399.3" y1="138" x2="396" y2="136.9" stroke="#262626" stroke-width="0.9"/>
<line x1="399.3" y1="156.6" x2="396" y2="155.5" stroke="#262626" stroke-width="0.9"/>
<line x1="399.3" y1="175.2" x2="396" y2="174.1" stroke="#262626" stroke-width="0.9"/>
<line x1="399.3" y1="193.8" x2="396" y2="192.7" stroke="#262626" stroke-width="0.9"/>
<line x1="399.3" y1="212.4" x2="396" y2="211.3" stroke="#262626" stroke-width="0.9"/>
<line x1="399.3" y1="231" x2="396" y2="229.9" stroke="#262626" stroke-width="0.9"/>
<line x1="399.3" y1="249.6" x2="396" y2="248.5" stroke="#262626" stroke-width="0.9"/>
<line x1="416.4" y1="279.6" x2="419.6" y2="278.4" stroke="#262626" stroke-width="0.9"/>
<line x1="448.6" y1="300.6" x2="451.8" y2="299.4" stroke="#262626" stroke-width="0.9"/>
<line x1="481.4" y1="321.8" x2="484.6" y2="320.6" stroke="#262626" stroke-width="0.9"/>
<line x1="525.7" y1="324.6" x2="522.9" y2="322.8" stroke="#262626" stroke-width="0.9"/>
<line x1="568.6" y1="308.2" x2="565.8" y2="306.4" stroke="#262626" stroke-width="0.9"/>
<line x1="612.9" y1="291.4" x2="610.1" y2="289.6" stroke="#262626" stroke-width="0.9"/>
</g>
<g class="gs" font-family="Liberation Sans" font-size="10" fill="#303030" letter-spacing="0">
<text transform="translate(84.3,124.4) scale(1.13,1)" text-anchor="end">120</text>
<text transform="translate(84.3,143.8) scale(1.13,1)" text-anchor="end">100</text>
<text transform="translate(84.3,163.2) scale(1.13,1)" text-anchor="end">80</text>
<text transform="translate(84.3,182.6) scale(1.13,1)" text-anchor="end">60</text>
<text transform="translate(84.3,201.9) scale(1.13,1)" text-anchor="end">40</text>
<text transform="translate(84.3,221.3) scale(1.13,1)" text-anchor="end">20</text>
<text transform="translate(84.3,240.7) scale(1.13,1)" text-anchor="end">0</text>
<text transform="translate(84.3,260.1) scale(1.13,1)" text-anchor="end">-20</text>
<text transform="translate(84.3,279.5) scale(1.13,1)" text-anchor="end">-40</text>
<text transform="translate(93,321.3) scale(1.13,1)" text-anchor="middle">50</text>
<text transform="translate(130.2,342.7) scale(1.13,1)" text-anchor="middle">0</text>
<text transform="translate(159,364.6) scale(1.13,1)" text-anchor="middle">-50</text>
<text transform="translate(221.4,359) scale(1.13,1)" text-anchor="middle">-50</text>
<text transform="translate(260.5,342.3) scale(1.13,1)" text-anchor="middle">0</text>
<text transform="translate(308,324.7) scale(1.13,1)" text-anchor="middle">50</text>
<text transform="translate(392.4,139.2) scale(1.13,1)" text-anchor="end">60</text>
<text transform="translate(392.4,157.8) scale(1.13,1)" text-anchor="end">40</text>
<text transform="translate(392.4,176.4) scale(1.13,1)" text-anchor="end">20</text>
<text transform="translate(392.4,195) scale(1.13,1)" text-anchor="end">0</text>
<text transform="translate(392.4,213.6) scale(1.13,1)" text-anchor="end">-20</text>
<text transform="translate(392.4,232.2) scale(1.13,1)" text-anchor="end">-40</text>
<text transform="translate(392.4,250.8) scale(1.13,1)" text-anchor="end">-60</text>
<text transform="translate(403.2,292.2) scale(1.13,1)" text-anchor="middle">50</text>
<text transform="translate(439,314.1) scale(1.13,1)" text-anchor="middle">0</text>
<text transform="translate(466.8,335.1) scale(1.13,1)" text-anchor="middle">-50</text>
<text transform="translate(538.6,339.4) scale(1.13,1)" text-anchor="middle">-50</text>
<text transform="translate(575.7,323.1) scale(1.13,1)" text-anchor="middle">0</text>
<text transform="translate(622,307.4) scale(1.13,1)" text-anchor="middle">50</text>
</g>
<g class="gs" font-family="Liberation Sans" font-weight="bold" font-size="11" fill="#000">
<text x="208" y="32" text-anchor="middle" textLength="213" lengthAdjust="spacingAndGlyphs">Original Data and Best Fit Ellipsoid</text>
<text x="207.5" y="46" text-anchor="middle" textLength="104" lengthAdjust="spacingAndGlyphs">Using Auto Fitter</text>
<text x="517" y="66" text-anchor="middle" textLength="210" lengthAdjust="spacingAndGlyphs">Corrected Data Fit to Ideal Sphere</text>
</g>
<rect x="297.5" y="370.5" width="131" height="28" fill="#fff" stroke="#000" stroke-width="1"/>
<use href="#m" transform="translate(316.5,378.5) scale(1.15)" fill="#0a1eff"/>
<use href="#m" transform="translate(316.5,390.5) scale(1.15)" fill="#ff2612"/>
<g class="gs" font-family="Liberation Sans" font-size="9" fill="#000">
<text x="335.5" y="381" textLength="82" lengthAdjust="spacing">Data inside fit (uT)</text>
<text x="335.5" y="393.5" textLength="88.8" lengthAdjust="spacing">Data outside fit (uT)</text>
</g>
</svg></body></html>
